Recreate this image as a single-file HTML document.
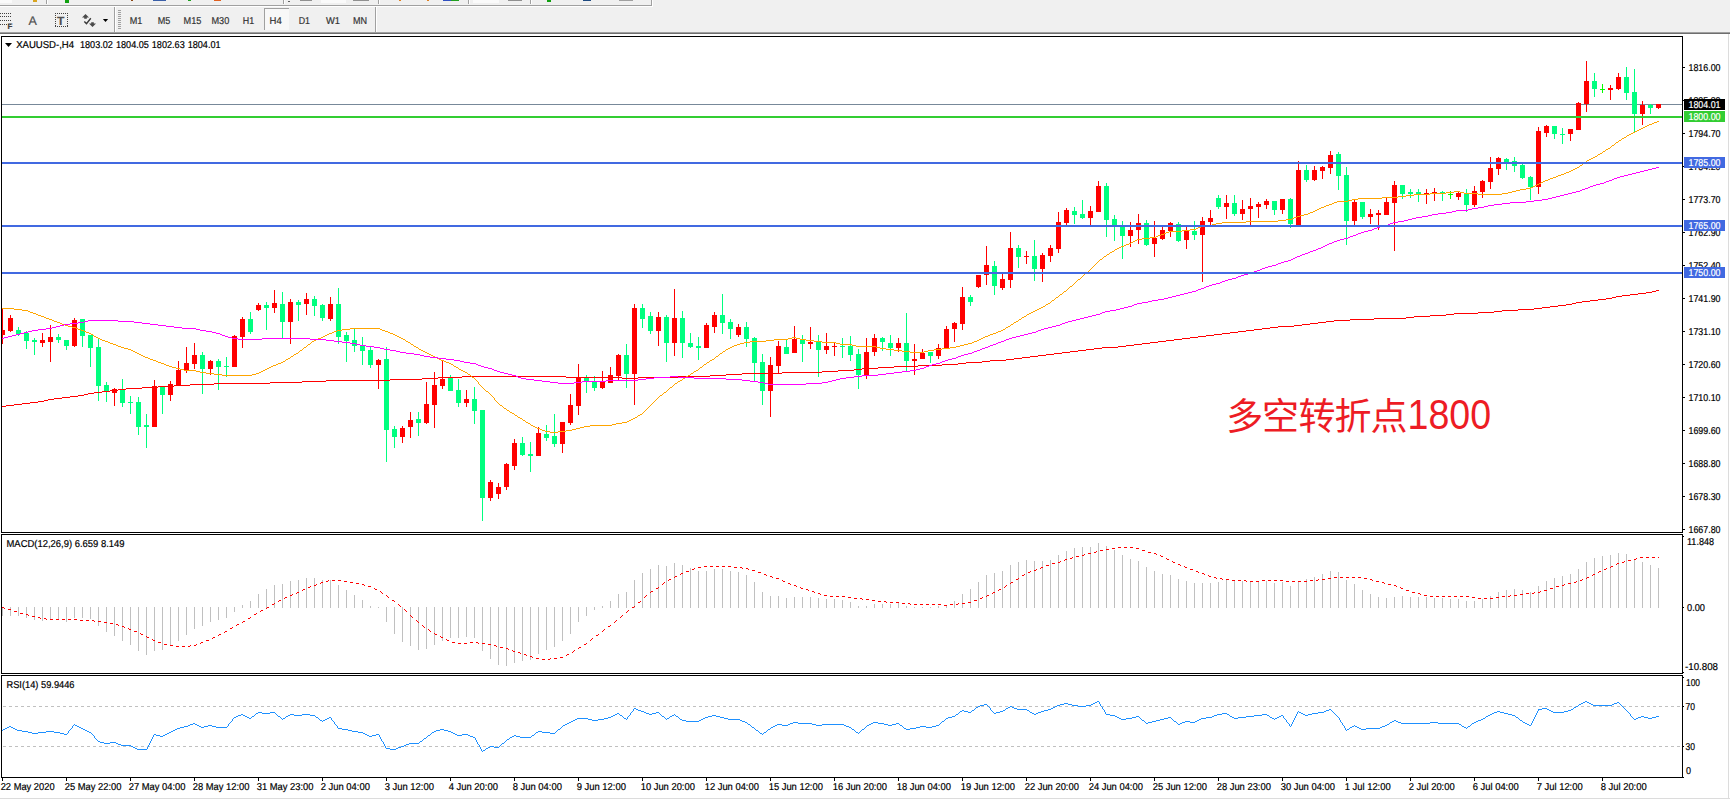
<!DOCTYPE html>
<html><head><meta charset="utf-8"><title>XAUUSD H4</title>
<style>html,body{margin:0;padding:0;background:#fff;overflow:hidden;width:1730px;height:800px;} svg{display:block} .t{stroke-width:0.2px}</style></head>
<body><svg width="1730" height="800" viewBox="0 0 1730 800">
<rect x="0" y="0" width="1730" height="34" fill="#f0f0f0"/>
<rect x="0" y="5" width="652" height="1" fill="#a0a0a0"/>
<rect x="0" y="6" width="653" height="1" fill="#ffffff"/>
<rect x="651" y="0" width="1" height="6" fill="#a0a0a0"/>
<rect x="652" y="0" width="1" height="7" fill="#ffffff"/>
<rect x="46" y="0" width="1" height="4" fill="#a0a0a0"/><rect x="47" y="0" width="1" height="4" fill="#fff"/>
<rect x="283" y="0" width="1" height="4" fill="#a0a0a0"/><rect x="284" y="0" width="1" height="4" fill="#fff"/>
<rect x="378" y="0" width="1" height="4" fill="#a0a0a0"/><rect x="379" y="0" width="1" height="4" fill="#fff"/>
<rect x="468" y="0" width="1" height="4" fill="#a0a0a0"/><rect x="469" y="0" width="1" height="4" fill="#fff"/>
<rect x="530" y="0" width="1" height="4" fill="#a0a0a0"/><rect x="531" y="0" width="1" height="4" fill="#fff"/>
<rect x="0" y="0" width="12" height="3" fill="#fafafa"/>
<rect x="33" y="0" width="4" height="2" fill="#d9a520"/>
<rect x="65" y="0" width="4" height="3" fill="#10a010"/>
<rect x="131" y="0" width="2" height="1" fill="#8b4513"/>
<rect x="153" y="0" width="13" height="1" fill="#3a5fa8"/>
<rect x="188" y="0" width="3" height="1" fill="#20a020"/>
<rect x="214" y="0" width="7" height="1" fill="#e06020"/>
<rect x="288" y="1" width="2" height="1" fill="#606060"/>
<rect x="300" y="0" width="12" height="1" fill="#909090"/>
<rect x="321" y="0" width="25" height="3" fill="#fafafa"/>
<rect x="353" y="0" width="16" height="1" fill="#909090"/>
<rect x="399" y="0" width="2" height="1" fill="#e08020"/>
<rect x="427" y="0" width="2" height="1" fill="#e08020"/>
<rect x="443" y="0" width="8" height="1" fill="#3050c0"/><rect x="451" y="0" width="8" height="1" fill="#20a020"/>
<rect x="473" y="0" width="26" height="3" fill="#fafafa"/>
<rect x="508" y="0" width="14" height="1" fill="#909090"/>
<rect x="547" y="0" width="4" height="2" fill="#10a010"/>
<rect x="583" y="0" width="8" height="1" fill="#1e4a80"/>
<rect x="619" y="0" width="14" height="1" fill="#a0a0a0"/>
<rect x="0" y="32" width="1730" height="1" fill="#a0a0a0"/>
<rect x="0" y="33" width="1730" height="1" fill="#6e6e6e"/>
<rect x="0" y="13" width="1" height="1" fill="#404040"/>
<rect x="2" y="13" width="1" height="1" fill="#404040"/>
<rect x="4" y="13" width="1" height="1" fill="#404040"/>
<rect x="6" y="13" width="1" height="1" fill="#404040"/>
<rect x="8" y="13" width="1" height="1" fill="#404040"/>
<rect x="10" y="13" width="1" height="1" fill="#404040"/>
<rect x="0" y="16" width="1" height="1" fill="#404040"/>
<rect x="2" y="16" width="1" height="1" fill="#404040"/>
<rect x="4" y="16" width="1" height="1" fill="#404040"/>
<rect x="6" y="16" width="1" height="1" fill="#404040"/>
<rect x="8" y="16" width="1" height="1" fill="#404040"/>
<rect x="10" y="16" width="1" height="1" fill="#404040"/>
<rect x="0" y="20" width="1" height="1" fill="#404040"/>
<rect x="2" y="20" width="1" height="1" fill="#404040"/>
<rect x="4" y="20" width="1" height="1" fill="#404040"/>
<rect x="6" y="20" width="1" height="1" fill="#404040"/>
<rect x="8" y="20" width="1" height="1" fill="#404040"/>
<rect x="10" y="20" width="1" height="1" fill="#404040"/>
<rect x="0" y="24" width="1" height="1" fill="#404040"/>
<rect x="2" y="24" width="1" height="1" fill="#404040"/>
<rect x="4" y="24" width="1" height="1" fill="#404040"/>
<rect x="6" y="24" width="1" height="1" fill="#404040"/>
<rect x="8" y="24" width="1" height="1" fill="#404040"/>
<rect x="10" y="24" width="1" height="1" fill="#404040"/>
<text x="7.5" y="29" font-family="Liberation Sans, Arial, sans-serif" text-rendering="geometricPrecision" class="t" font-size="8" font-weight="bold" fill="#404040" stroke="#404040">F</text>
<text x="28.5" y="25" font-family="Liberation Sans, Arial, sans-serif" text-rendering="geometricPrecision" class="t" font-size="12.5" fill="#505050" stroke="#505050">A</text>
<rect x="55" y="13" width="1" height="1" fill="#404040"/><rect x="55" y="26" width="1" height="1" fill="#404040"/>
<rect x="57" y="13" width="1" height="1" fill="#404040"/><rect x="57" y="26" width="1" height="1" fill="#404040"/>
<rect x="59" y="13" width="1" height="1" fill="#404040"/><rect x="59" y="26" width="1" height="1" fill="#404040"/>
<rect x="61" y="13" width="1" height="1" fill="#404040"/><rect x="61" y="26" width="1" height="1" fill="#404040"/>
<rect x="63" y="13" width="1" height="1" fill="#404040"/><rect x="63" y="26" width="1" height="1" fill="#404040"/>
<rect x="65" y="13" width="1" height="1" fill="#404040"/><rect x="65" y="26" width="1" height="1" fill="#404040"/>
<rect x="67" y="13" width="1" height="1" fill="#404040"/><rect x="67" y="26" width="1" height="1" fill="#404040"/>
<rect x="55" y="13" width="1" height="1" fill="#404040"/><rect x="67" y="13" width="1" height="1" fill="#404040"/>
<rect x="55" y="15" width="1" height="1" fill="#404040"/><rect x="67" y="15" width="1" height="1" fill="#404040"/>
<rect x="55" y="17" width="1" height="1" fill="#404040"/><rect x="67" y="17" width="1" height="1" fill="#404040"/>
<rect x="55" y="19" width="1" height="1" fill="#404040"/><rect x="67" y="19" width="1" height="1" fill="#404040"/>
<rect x="55" y="21" width="1" height="1" fill="#404040"/><rect x="67" y="21" width="1" height="1" fill="#404040"/>
<rect x="55" y="23" width="1" height="1" fill="#404040"/><rect x="67" y="23" width="1" height="1" fill="#404040"/>
<rect x="55" y="25" width="1" height="1" fill="#404040"/><rect x="67" y="25" width="1" height="1" fill="#404040"/>
<text x="57" y="25" font-family="Liberation Sans, Arial, sans-serif" text-rendering="geometricPrecision" class="t" font-size="12" font-weight="bold" fill="#505050" stroke="#505050">T</text>
<path d="M82 17.6 L85.5 14 L89 17.6 Z M84.2 17.5 h2.6 v1.3 h-2.6 Z" fill="#4a4a4a"/>
<path d="M89 23.4 L92.5 27 L96 23.4 Z M91.2 22.2 h2.6 v1.3 h-2.6 Z" fill="#4a4a4a"/>
<path d="M84.3 21.4 L86.5 23.6 L90.8 18.3" stroke="#3a3a3a" stroke-width="1.4" fill="none"/>
<path d="M102.9 19 L108.1 19 L105.5 22 Z" fill="#000"/>
<rect x="114" y="7" width="1" height="25" fill="#a0a0a0"/><rect x="115" y="7" width="1" height="25" fill="#ffffff"/>
<rect x="118" y="10" width="3" height="1" fill="#a0a0a0"/>
<rect x="118" y="12" width="3" height="1" fill="#a0a0a0"/>
<rect x="118" y="14" width="3" height="1" fill="#a0a0a0"/>
<rect x="118" y="16" width="3" height="1" fill="#a0a0a0"/>
<rect x="118" y="18" width="3" height="1" fill="#a0a0a0"/>
<rect x="118" y="20" width="3" height="1" fill="#a0a0a0"/>
<rect x="118" y="22" width="3" height="1" fill="#a0a0a0"/>
<rect x="118" y="24" width="3" height="1" fill="#a0a0a0"/>
<rect x="118" y="26" width="3" height="1" fill="#a0a0a0"/>
<rect x="118" y="28" width="3" height="1" fill="#a0a0a0"/>
<rect x="264" y="8" width="25" height="22" fill="#f8f8f8"/>
<rect x="264" y="8" width="25" height="1" fill="#a0a0a0"/><rect x="264" y="8" width="1" height="22" fill="#a0a0a0"/>
<text x="129.8" y="24" font-family="Liberation Sans, Arial, sans-serif" text-rendering="geometricPrecision" class="t" font-size="10" fill="#333" stroke="#333" textLength="12.6" lengthAdjust="spacingAndGlyphs">M1</text>
<text x="157.7" y="24" font-family="Liberation Sans, Arial, sans-serif" text-rendering="geometricPrecision" class="t" font-size="10" fill="#333" stroke="#333" textLength="12.6" lengthAdjust="spacingAndGlyphs">M5</text>
<text x="183.6" y="24" font-family="Liberation Sans, Arial, sans-serif" text-rendering="geometricPrecision" class="t" font-size="10" fill="#333" stroke="#333" textLength="17.8" lengthAdjust="spacingAndGlyphs">M15</text>
<text x="211.5" y="24" font-family="Liberation Sans, Arial, sans-serif" text-rendering="geometricPrecision" class="t" font-size="10" fill="#333" stroke="#333" textLength="17.8" lengthAdjust="spacingAndGlyphs">M30</text>
<text x="242.8" y="24" font-family="Liberation Sans, Arial, sans-serif" text-rendering="geometricPrecision" class="t" font-size="10" fill="#333" stroke="#333" textLength="11.4" lengthAdjust="spacingAndGlyphs">H1</text>
<text x="269.5" y="24" font-family="Liberation Sans, Arial, sans-serif" text-rendering="geometricPrecision" class="t" font-size="10" fill="#333" stroke="#333" textLength="12.2" lengthAdjust="spacingAndGlyphs">H4</text>
<text x="298.7" y="24" font-family="Liberation Sans, Arial, sans-serif" text-rendering="geometricPrecision" class="t" font-size="10" fill="#333" stroke="#333" textLength="11.3" lengthAdjust="spacingAndGlyphs">D1</text>
<text x="326" y="24" font-family="Liberation Sans, Arial, sans-serif" text-rendering="geometricPrecision" class="t" font-size="10" fill="#333" stroke="#333" textLength="14" lengthAdjust="spacingAndGlyphs">W1</text>
<text x="352.9" y="24" font-family="Liberation Sans, Arial, sans-serif" text-rendering="geometricPrecision" class="t" font-size="10" fill="#333" stroke="#333" textLength="14.1" lengthAdjust="spacingAndGlyphs">MN</text>
<rect x="375" y="7" width="1" height="25" fill="#a0a0a0"/><rect x="376" y="7" width="1" height="25" fill="#ffffff"/>
<rect x="0" y="34" width="1730" height="766" fill="#ffffff"/>
<rect x="1728" y="34" width="1" height="764" fill="#dcdcdc"/>
<rect x="0" y="798" width="1730" height="1" fill="#dcdcdc"/>
<defs><clipPath id="cm"><rect x="2" y="37" width="1680" height="495"/></clipPath><clipPath id="cd"><rect x="2" y="535" width="1680" height="138"/></clipPath><clipPath id="cr"><rect x="2" y="676" width="1680" height="101"/></clipPath></defs>
<g fill="#000">
<rect x="1" y="36" width="1682" height="1"/><rect x="1" y="532" width="1682" height="1"/>
<rect x="1" y="36" width="1" height="497"/><rect x="1682" y="36" width="1" height="497"/>
<rect x="1" y="534" width="1682" height="1"/><rect x="1" y="673" width="1682" height="1"/>
<rect x="1" y="534" width="1" height="140"/><rect x="1682" y="534" width="1" height="140"/>
<rect x="1" y="675" width="1682" height="1"/><rect x="1" y="777" width="1682" height="1"/>
<rect x="1" y="675" width="1" height="103"/><rect x="1682" y="675" width="1" height="103"/>
</g>
<rect x="1683" y="67" width="2" height="1" fill="#000"/>
<text x="1688.5" y="71" font-family="Liberation Sans, Arial, sans-serif" text-rendering="geometricPrecision" class="t" font-size="10" fill="#000" stroke="#000" textLength="32" lengthAdjust="spacingAndGlyphs">1816.00</text>
<rect x="1683" y="100" width="2" height="1" fill="#000"/>
<text x="1688.5" y="104" font-family="Liberation Sans, Arial, sans-serif" text-rendering="geometricPrecision" class="t" font-size="10" fill="#000" stroke="#000" textLength="32" lengthAdjust="spacingAndGlyphs">1805.30</text>
<rect x="1683" y="133" width="2" height="1" fill="#000"/>
<text x="1688.5" y="137" font-family="Liberation Sans, Arial, sans-serif" text-rendering="geometricPrecision" class="t" font-size="10" fill="#000" stroke="#000" textLength="32" lengthAdjust="spacingAndGlyphs">1794.70</text>
<rect x="1683" y="166" width="2" height="1" fill="#000"/>
<text x="1688.5" y="170" font-family="Liberation Sans, Arial, sans-serif" text-rendering="geometricPrecision" class="t" font-size="10" fill="#000" stroke="#000" textLength="32" lengthAdjust="spacingAndGlyphs">1784.20</text>
<rect x="1683" y="199" width="2" height="1" fill="#000"/>
<text x="1688.5" y="203" font-family="Liberation Sans, Arial, sans-serif" text-rendering="geometricPrecision" class="t" font-size="10" fill="#000" stroke="#000" textLength="32" lengthAdjust="spacingAndGlyphs">1773.70</text>
<rect x="1683" y="232" width="2" height="1" fill="#000"/>
<text x="1688.5" y="236" font-family="Liberation Sans, Arial, sans-serif" text-rendering="geometricPrecision" class="t" font-size="10" fill="#000" stroke="#000" textLength="32" lengthAdjust="spacingAndGlyphs">1762.90</text>
<rect x="1683" y="265" width="2" height="1" fill="#000"/>
<text x="1688.5" y="269" font-family="Liberation Sans, Arial, sans-serif" text-rendering="geometricPrecision" class="t" font-size="10" fill="#000" stroke="#000" textLength="32" lengthAdjust="spacingAndGlyphs">1752.40</text>
<rect x="1683" y="298" width="2" height="1" fill="#000"/>
<text x="1688.5" y="302" font-family="Liberation Sans, Arial, sans-serif" text-rendering="geometricPrecision" class="t" font-size="10" fill="#000" stroke="#000" textLength="32" lengthAdjust="spacingAndGlyphs">1741.90</text>
<rect x="1683" y="331" width="2" height="1" fill="#000"/>
<text x="1688.5" y="335" font-family="Liberation Sans, Arial, sans-serif" text-rendering="geometricPrecision" class="t" font-size="10" fill="#000" stroke="#000" textLength="32" lengthAdjust="spacingAndGlyphs">1731.10</text>
<rect x="1683" y="364" width="2" height="1" fill="#000"/>
<text x="1688.5" y="368" font-family="Liberation Sans, Arial, sans-serif" text-rendering="geometricPrecision" class="t" font-size="10" fill="#000" stroke="#000" textLength="32" lengthAdjust="spacingAndGlyphs">1720.60</text>
<rect x="1683" y="397" width="2" height="1" fill="#000"/>
<text x="1688.5" y="401" font-family="Liberation Sans, Arial, sans-serif" text-rendering="geometricPrecision" class="t" font-size="10" fill="#000" stroke="#000" textLength="32" lengthAdjust="spacingAndGlyphs">1710.10</text>
<rect x="1683" y="430" width="2" height="1" fill="#000"/>
<text x="1688.5" y="434" font-family="Liberation Sans, Arial, sans-serif" text-rendering="geometricPrecision" class="t" font-size="10" fill="#000" stroke="#000" textLength="32" lengthAdjust="spacingAndGlyphs">1699.60</text>
<rect x="1683" y="463" width="2" height="1" fill="#000"/>
<text x="1688.5" y="467" font-family="Liberation Sans, Arial, sans-serif" text-rendering="geometricPrecision" class="t" font-size="10" fill="#000" stroke="#000" textLength="32" lengthAdjust="spacingAndGlyphs">1688.80</text>
<rect x="1683" y="496" width="2" height="1" fill="#000"/>
<text x="1688.5" y="500" font-family="Liberation Sans, Arial, sans-serif" text-rendering="geometricPrecision" class="t" font-size="10" fill="#000" stroke="#000" textLength="32" lengthAdjust="spacingAndGlyphs">1678.30</text>
<rect x="1683" y="529" width="2" height="1" fill="#000"/>
<text x="1688.5" y="533" font-family="Liberation Sans, Arial, sans-serif" text-rendering="geometricPrecision" class="t" font-size="10" fill="#000" stroke="#000" textLength="32" lengthAdjust="spacingAndGlyphs">1667.80</text>
<g clip-path="url(#cm)" shape-rendering="crispEdges">
<rect x="2" y="104" width="1680" height="1" fill="#778899"/>
<rect x="2" y="308" width="1" height="36" fill="#ff0000"/>
<rect x="0" y="330" width="5" height="5" fill="#ff0000"/>
<rect x="10" y="315" width="1" height="17" fill="#ff0000"/>
<rect x="8" y="318" width="5" height="13" fill="#ff0000"/>
<rect x="18" y="327" width="1" height="9" fill="#00ff7f"/>
<rect x="16" y="330" width="5" height="4" fill="#00ff7f"/>
<rect x="26" y="331" width="1" height="18" fill="#00ff7f"/>
<rect x="24" y="333" width="5" height="8" fill="#00ff7f"/>
<rect x="34" y="338" width="1" height="17" fill="#00ff7f"/>
<rect x="32" y="340" width="5" height="2" fill="#00ff7f"/>
<rect x="42" y="333" width="1" height="14" fill="#ff0000"/>
<rect x="40" y="340" width="5" height="3" fill="#ff0000"/>
<rect x="50" y="325" width="1" height="37" fill="#ff0000"/>
<rect x="48" y="337" width="5" height="5" fill="#ff0000"/>
<rect x="58" y="334" width="1" height="9" fill="#00ff7f"/>
<rect x="56" y="337" width="5" height="3" fill="#00ff7f"/>
<rect x="66" y="340" width="1" height="10" fill="#00ff7f"/>
<rect x="64" y="340" width="5" height="6" fill="#00ff7f"/>
<rect x="74" y="318" width="1" height="29" fill="#ff0000"/>
<rect x="72" y="320" width="5" height="26" fill="#ff0000"/>
<rect x="82" y="319" width="1" height="28" fill="#00ff7f"/>
<rect x="80" y="319" width="5" height="17" fill="#00ff7f"/>
<rect x="90" y="335" width="1" height="32" fill="#00ff7f"/>
<rect x="88" y="335" width="5" height="13" fill="#00ff7f"/>
<rect x="98" y="339" width="1" height="62" fill="#00ff7f"/>
<rect x="96" y="347" width="5" height="39" fill="#00ff7f"/>
<rect x="106" y="382" width="1" height="20" fill="#00ff7f"/>
<rect x="104" y="385" width="5" height="7" fill="#00ff7f"/>
<rect x="114" y="388" width="1" height="18" fill="#ff0000"/>
<rect x="112" y="389" width="5" height="4" fill="#ff0000"/>
<rect x="122" y="379" width="1" height="28" fill="#00ff7f"/>
<rect x="120" y="390" width="5" height="13" fill="#00ff7f"/>
<rect x="130" y="396" width="1" height="18" fill="#00ff7f"/>
<rect x="128" y="402" width="5" height="1" fill="#00ff7f"/>
<rect x="138" y="397" width="1" height="38" fill="#00ff7f"/>
<rect x="136" y="402" width="5" height="25" fill="#00ff7f"/>
<rect x="146" y="414" width="1" height="34" fill="#00ff7f"/>
<rect x="144" y="425" width="5" height="2" fill="#00ff7f"/>
<rect x="154" y="380" width="1" height="47" fill="#ff0000"/>
<rect x="152" y="386" width="5" height="41" fill="#ff0000"/>
<rect x="162" y="387" width="1" height="27" fill="#00ff7f"/>
<rect x="160" y="387" width="5" height="8" fill="#00ff7f"/>
<rect x="170" y="381" width="1" height="20" fill="#ff0000"/>
<rect x="168" y="384" width="5" height="11" fill="#ff0000"/>
<rect x="178" y="361" width="1" height="24" fill="#ff0000"/>
<rect x="176" y="370" width="5" height="15" fill="#ff0000"/>
<rect x="186" y="347" width="1" height="26" fill="#ff0000"/>
<rect x="184" y="363" width="5" height="7" fill="#ff0000"/>
<rect x="194" y="343" width="1" height="26" fill="#ff0000"/>
<rect x="192" y="355" width="5" height="9" fill="#ff0000"/>
<rect x="202" y="352" width="1" height="42" fill="#00ff7f"/>
<rect x="200" y="355" width="5" height="14" fill="#00ff7f"/>
<rect x="210" y="360" width="1" height="15" fill="#ff0000"/>
<rect x="208" y="361" width="5" height="8" fill="#ff0000"/>
<rect x="218" y="359" width="1" height="31" fill="#00ff7f"/>
<rect x="216" y="361" width="5" height="6" fill="#00ff7f"/>
<rect x="226" y="357" width="1" height="20" fill="#00ff7f"/>
<rect x="224" y="366" width="5" height="1" fill="#00ff7f"/>
<rect x="234" y="335" width="1" height="32" fill="#ff0000"/>
<rect x="232" y="336" width="5" height="31" fill="#ff0000"/>
<rect x="242" y="317" width="1" height="31" fill="#ff0000"/>
<rect x="240" y="319" width="5" height="18" fill="#ff0000"/>
<rect x="250" y="312" width="1" height="22" fill="#00ff7f"/>
<rect x="248" y="319" width="5" height="13" fill="#00ff7f"/>
<rect x="258" y="303" width="1" height="8" fill="#ff0000"/>
<rect x="256" y="305" width="5" height="5" fill="#ff0000"/>
<rect x="266" y="302" width="1" height="28" fill="#00ff7f"/>
<rect x="264" y="305" width="5" height="3" fill="#00ff7f"/>
<rect x="274" y="290" width="1" height="23" fill="#ff0000"/>
<rect x="272" y="303" width="5" height="5" fill="#ff0000"/>
<rect x="282" y="292" width="1" height="46" fill="#00ff7f"/>
<rect x="280" y="304" width="5" height="18" fill="#00ff7f"/>
<rect x="290" y="299" width="1" height="45" fill="#ff0000"/>
<rect x="288" y="302" width="5" height="20" fill="#ff0000"/>
<rect x="298" y="300" width="1" height="21" fill="#00ff7f"/>
<rect x="296" y="302" width="5" height="3" fill="#00ff7f"/>
<rect x="306" y="293" width="1" height="22" fill="#ff0000"/>
<rect x="304" y="299" width="5" height="5" fill="#ff0000"/>
<rect x="314" y="296" width="1" height="20" fill="#00ff7f"/>
<rect x="312" y="299" width="5" height="7" fill="#00ff7f"/>
<rect x="322" y="304" width="1" height="17" fill="#00ff7f"/>
<rect x="320" y="305" width="5" height="13" fill="#00ff7f"/>
<rect x="330" y="297" width="1" height="24" fill="#ff0000"/>
<rect x="328" y="304" width="5" height="15" fill="#ff0000"/>
<rect x="338" y="288" width="1" height="56" fill="#00ff7f"/>
<rect x="336" y="304" width="5" height="33" fill="#00ff7f"/>
<rect x="346" y="332" width="1" height="30" fill="#00ff7f"/>
<rect x="344" y="335" width="5" height="6" fill="#00ff7f"/>
<rect x="354" y="328" width="1" height="24" fill="#00ff7f"/>
<rect x="352" y="340" width="5" height="6" fill="#00ff7f"/>
<rect x="362" y="337" width="1" height="28" fill="#00ff7f"/>
<rect x="360" y="346" width="5" height="5" fill="#00ff7f"/>
<rect x="370" y="347" width="1" height="21" fill="#00ff7f"/>
<rect x="368" y="350" width="5" height="15" fill="#00ff7f"/>
<rect x="378" y="359" width="1" height="30" fill="#ff0000"/>
<rect x="376" y="360" width="5" height="5" fill="#ff0000"/>
<rect x="386" y="347" width="1" height="115" fill="#00ff7f"/>
<rect x="384" y="359" width="5" height="71" fill="#00ff7f"/>
<rect x="394" y="426" width="1" height="22" fill="#00ff7f"/>
<rect x="392" y="429" width="5" height="8" fill="#00ff7f"/>
<rect x="402" y="426" width="1" height="17" fill="#ff0000"/>
<rect x="400" y="428" width="5" height="9" fill="#ff0000"/>
<rect x="410" y="412" width="1" height="26" fill="#ff0000"/>
<rect x="408" y="420" width="5" height="7" fill="#ff0000"/>
<rect x="418" y="412" width="1" height="24" fill="#00ff7f"/>
<rect x="416" y="419" width="5" height="4" fill="#00ff7f"/>
<rect x="426" y="382" width="1" height="42" fill="#ff0000"/>
<rect x="424" y="404" width="5" height="19" fill="#ff0000"/>
<rect x="434" y="372" width="1" height="56" fill="#ff0000"/>
<rect x="432" y="385" width="5" height="20" fill="#ff0000"/>
<rect x="442" y="360" width="1" height="29" fill="#ff0000"/>
<rect x="440" y="379" width="5" height="7" fill="#ff0000"/>
<rect x="450" y="375" width="1" height="16" fill="#00ff7f"/>
<rect x="448" y="378" width="5" height="13" fill="#00ff7f"/>
<rect x="458" y="379" width="1" height="28" fill="#00ff7f"/>
<rect x="456" y="390" width="5" height="13" fill="#00ff7f"/>
<rect x="466" y="390" width="1" height="17" fill="#ff0000"/>
<rect x="464" y="399" width="5" height="4" fill="#ff0000"/>
<rect x="474" y="387" width="1" height="37" fill="#00ff7f"/>
<rect x="472" y="399" width="5" height="12" fill="#00ff7f"/>
<rect x="482" y="410" width="1" height="111" fill="#00ff7f"/>
<rect x="480" y="410" width="5" height="88" fill="#00ff7f"/>
<rect x="490" y="480" width="1" height="21" fill="#ff0000"/>
<rect x="488" y="482" width="5" height="16" fill="#ff0000"/>
<rect x="498" y="483" width="1" height="16" fill="#ff0000"/>
<rect x="496" y="487" width="5" height="7" fill="#ff0000"/>
<rect x="506" y="463" width="1" height="27" fill="#ff0000"/>
<rect x="504" y="464" width="5" height="23" fill="#ff0000"/>
<rect x="514" y="439" width="1" height="31" fill="#ff0000"/>
<rect x="512" y="443" width="5" height="23" fill="#ff0000"/>
<rect x="522" y="437" width="1" height="19" fill="#00ff7f"/>
<rect x="520" y="443" width="5" height="12" fill="#00ff7f"/>
<rect x="530" y="442" width="1" height="30" fill="#00ff7f"/>
<rect x="528" y="454" width="5" height="2" fill="#00ff7f"/>
<rect x="538" y="427" width="1" height="29" fill="#ff0000"/>
<rect x="536" y="433" width="5" height="23" fill="#ff0000"/>
<rect x="546" y="425" width="1" height="16" fill="#00ff7f"/>
<rect x="544" y="434" width="5" height="4" fill="#00ff7f"/>
<rect x="554" y="414" width="1" height="33" fill="#00ff7f"/>
<rect x="552" y="436" width="5" height="8" fill="#00ff7f"/>
<rect x="562" y="422" width="1" height="31" fill="#ff0000"/>
<rect x="560" y="422" width="5" height="22" fill="#ff0000"/>
<rect x="570" y="394" width="1" height="31" fill="#ff0000"/>
<rect x="568" y="405" width="5" height="18" fill="#ff0000"/>
<rect x="578" y="364" width="1" height="51" fill="#ff0000"/>
<rect x="576" y="378" width="5" height="28" fill="#ff0000"/>
<rect x="586" y="375" width="1" height="18" fill="#00ff7f"/>
<rect x="584" y="378" width="5" height="3" fill="#00ff7f"/>
<rect x="594" y="376" width="1" height="15" fill="#00ff7f"/>
<rect x="592" y="382" width="5" height="6" fill="#00ff7f"/>
<rect x="602" y="371" width="1" height="18" fill="#ff0000"/>
<rect x="600" y="382" width="5" height="6" fill="#ff0000"/>
<rect x="610" y="367" width="1" height="16" fill="#ff0000"/>
<rect x="608" y="375" width="5" height="8" fill="#ff0000"/>
<rect x="618" y="354" width="1" height="26" fill="#ff0000"/>
<rect x="616" y="355" width="5" height="21" fill="#ff0000"/>
<rect x="626" y="344" width="1" height="44" fill="#00ff7f"/>
<rect x="624" y="355" width="5" height="19" fill="#00ff7f"/>
<rect x="634" y="304" width="1" height="101" fill="#ff0000"/>
<rect x="632" y="308" width="5" height="66" fill="#ff0000"/>
<rect x="642" y="304" width="1" height="24" fill="#00ff7f"/>
<rect x="640" y="308" width="5" height="11" fill="#00ff7f"/>
<rect x="650" y="312" width="1" height="22" fill="#00ff7f"/>
<rect x="648" y="316" width="5" height="15" fill="#00ff7f"/>
<rect x="658" y="312" width="1" height="34" fill="#ff0000"/>
<rect x="656" y="317" width="5" height="14" fill="#ff0000"/>
<rect x="666" y="315" width="1" height="47" fill="#00ff7f"/>
<rect x="664" y="317" width="5" height="26" fill="#00ff7f"/>
<rect x="674" y="289" width="1" height="67" fill="#ff0000"/>
<rect x="672" y="318" width="5" height="25" fill="#ff0000"/>
<rect x="682" y="311" width="1" height="47" fill="#00ff7f"/>
<rect x="680" y="318" width="5" height="25" fill="#00ff7f"/>
<rect x="690" y="333" width="1" height="15" fill="#00ff7f"/>
<rect x="688" y="343" width="5" height="4" fill="#00ff7f"/>
<rect x="698" y="337" width="1" height="23" fill="#00ff7f"/>
<rect x="696" y="346" width="5" height="2" fill="#00ff7f"/>
<rect x="706" y="323" width="1" height="25" fill="#ff0000"/>
<rect x="704" y="325" width="5" height="23" fill="#ff0000"/>
<rect x="714" y="312" width="1" height="21" fill="#ff0000"/>
<rect x="712" y="315" width="5" height="12" fill="#ff0000"/>
<rect x="722" y="294" width="1" height="40" fill="#00ff7f"/>
<rect x="720" y="315" width="5" height="8" fill="#00ff7f"/>
<rect x="730" y="319" width="1" height="20" fill="#00ff7f"/>
<rect x="728" y="322" width="5" height="7" fill="#00ff7f"/>
<rect x="738" y="324" width="1" height="13" fill="#ff0000"/>
<rect x="736" y="327" width="5" height="8" fill="#ff0000"/>
<rect x="746" y="322" width="1" height="25" fill="#00ff7f"/>
<rect x="744" y="327" width="5" height="12" fill="#00ff7f"/>
<rect x="754" y="337" width="1" height="44" fill="#00ff7f"/>
<rect x="752" y="338" width="5" height="25" fill="#00ff7f"/>
<rect x="762" y="354" width="1" height="51" fill="#00ff7f"/>
<rect x="760" y="362" width="5" height="29" fill="#00ff7f"/>
<rect x="770" y="357" width="1" height="60" fill="#ff0000"/>
<rect x="768" y="365" width="5" height="26" fill="#ff0000"/>
<rect x="778" y="341" width="1" height="33" fill="#ff0000"/>
<rect x="776" y="346" width="5" height="20" fill="#ff0000"/>
<rect x="786" y="339" width="1" height="15" fill="#00ff7f"/>
<rect x="784" y="347" width="5" height="7" fill="#00ff7f"/>
<rect x="794" y="326" width="1" height="27" fill="#ff0000"/>
<rect x="792" y="339" width="5" height="14" fill="#ff0000"/>
<rect x="802" y="335" width="1" height="27" fill="#00ff7f"/>
<rect x="800" y="339" width="5" height="5" fill="#00ff7f"/>
<rect x="810" y="327" width="1" height="22" fill="#ff0000"/>
<rect x="808" y="342" width="5" height="2" fill="#ff0000"/>
<rect x="818" y="335" width="1" height="42" fill="#00ff7f"/>
<rect x="816" y="342" width="5" height="8" fill="#00ff7f"/>
<rect x="826" y="333" width="1" height="21" fill="#ff0000"/>
<rect x="824" y="346" width="5" height="4" fill="#ff0000"/>
<rect x="834" y="342" width="1" height="14" fill="#ff0000"/>
<rect x="832" y="346" width="5" height="1" fill="#ff0000"/>
<rect x="842" y="338" width="1" height="20" fill="#00ff7f"/>
<rect x="840" y="346" width="5" height="1" fill="#00ff7f"/>
<rect x="850" y="336" width="1" height="25" fill="#00ff7f"/>
<rect x="848" y="346" width="5" height="9" fill="#00ff7f"/>
<rect x="858" y="349" width="1" height="40" fill="#00ff7f"/>
<rect x="856" y="354" width="5" height="21" fill="#00ff7f"/>
<rect x="866" y="338" width="1" height="41" fill="#ff0000"/>
<rect x="864" y="352" width="5" height="23" fill="#ff0000"/>
<rect x="874" y="334" width="1" height="22" fill="#ff0000"/>
<rect x="872" y="338" width="5" height="14" fill="#ff0000"/>
<rect x="882" y="337" width="1" height="14" fill="#00ff7f"/>
<rect x="880" y="338" width="5" height="4" fill="#00ff7f"/>
<rect x="890" y="335" width="1" height="21" fill="#00ff7f"/>
<rect x="888" y="343" width="5" height="5" fill="#00ff7f"/>
<rect x="898" y="338" width="1" height="14" fill="#ff0000"/>
<rect x="896" y="343" width="5" height="5" fill="#ff0000"/>
<rect x="906" y="313" width="1" height="58" fill="#00ff7f"/>
<rect x="904" y="343" width="5" height="18" fill="#00ff7f"/>
<rect x="914" y="344" width="1" height="31" fill="#ff0000"/>
<rect x="912" y="359" width="5" height="2" fill="#ff0000"/>
<rect x="922" y="349" width="1" height="10" fill="#ff0000"/>
<rect x="920" y="353" width="5" height="6" fill="#ff0000"/>
<rect x="930" y="352" width="1" height="11" fill="#00ff7f"/>
<rect x="928" y="352" width="5" height="4" fill="#00ff7f"/>
<rect x="938" y="344" width="1" height="15" fill="#ff0000"/>
<rect x="936" y="348" width="5" height="8" fill="#ff0000"/>
<rect x="946" y="326" width="1" height="22" fill="#ff0000"/>
<rect x="944" y="329" width="5" height="19" fill="#ff0000"/>
<rect x="954" y="322" width="1" height="20" fill="#ff0000"/>
<rect x="952" y="323" width="5" height="6" fill="#ff0000"/>
<rect x="962" y="287" width="1" height="43" fill="#ff0000"/>
<rect x="960" y="297" width="5" height="27" fill="#ff0000"/>
<rect x="970" y="295" width="1" height="11" fill="#00ff7f"/>
<rect x="968" y="297" width="5" height="5" fill="#00ff7f"/>
<rect x="978" y="275" width="1" height="13" fill="#ff0000"/>
<rect x="976" y="275" width="5" height="12" fill="#ff0000"/>
<rect x="986" y="246" width="1" height="39" fill="#ff0000"/>
<rect x="984" y="265" width="5" height="10" fill="#ff0000"/>
<rect x="994" y="261" width="1" height="34" fill="#00ff7f"/>
<rect x="992" y="266" width="5" height="20" fill="#00ff7f"/>
<rect x="1002" y="274" width="1" height="16" fill="#ff0000"/>
<rect x="1000" y="279" width="5" height="9" fill="#ff0000"/>
<rect x="1010" y="232" width="1" height="56" fill="#ff0000"/>
<rect x="1008" y="248" width="5" height="32" fill="#ff0000"/>
<rect x="1018" y="245" width="1" height="23" fill="#00ff7f"/>
<rect x="1016" y="248" width="5" height="9" fill="#00ff7f"/>
<rect x="1026" y="251" width="1" height="13" fill="#ff0000"/>
<rect x="1024" y="256" width="5" height="1" fill="#ff0000"/>
<rect x="1034" y="240" width="1" height="41" fill="#00ff7f"/>
<rect x="1032" y="256" width="5" height="13" fill="#00ff7f"/>
<rect x="1042" y="253" width="1" height="29" fill="#ff0000"/>
<rect x="1040" y="255" width="5" height="14" fill="#ff0000"/>
<rect x="1050" y="245" width="1" height="17" fill="#ff0000"/>
<rect x="1048" y="248" width="5" height="8" fill="#ff0000"/>
<rect x="1058" y="212" width="1" height="41" fill="#ff0000"/>
<rect x="1056" y="222" width="5" height="27" fill="#ff0000"/>
<rect x="1066" y="208" width="1" height="17" fill="#ff0000"/>
<rect x="1064" y="210" width="5" height="13" fill="#ff0000"/>
<rect x="1074" y="207" width="1" height="17" fill="#00ff7f"/>
<rect x="1072" y="211" width="5" height="4" fill="#00ff7f"/>
<rect x="1082" y="200" width="1" height="19" fill="#00ff7f"/>
<rect x="1080" y="214" width="5" height="4" fill="#00ff7f"/>
<rect x="1090" y="206" width="1" height="19" fill="#ff0000"/>
<rect x="1088" y="211" width="5" height="7" fill="#ff0000"/>
<rect x="1098" y="181" width="1" height="31" fill="#ff0000"/>
<rect x="1096" y="186" width="5" height="26" fill="#ff0000"/>
<rect x="1106" y="183" width="1" height="54" fill="#00ff7f"/>
<rect x="1104" y="186" width="5" height="34" fill="#00ff7f"/>
<rect x="1114" y="215" width="1" height="26" fill="#00ff7f"/>
<rect x="1112" y="219" width="5" height="6" fill="#00ff7f"/>
<rect x="1122" y="221" width="1" height="38" fill="#00ff7f"/>
<rect x="1120" y="227" width="5" height="9" fill="#00ff7f"/>
<rect x="1130" y="222" width="1" height="25" fill="#ff0000"/>
<rect x="1128" y="230" width="5" height="6" fill="#ff0000"/>
<rect x="1138" y="214" width="1" height="30" fill="#ff0000"/>
<rect x="1136" y="223" width="5" height="7" fill="#ff0000"/>
<rect x="1146" y="220" width="1" height="26" fill="#00ff7f"/>
<rect x="1144" y="223" width="5" height="22" fill="#00ff7f"/>
<rect x="1154" y="221" width="1" height="36" fill="#ff0000"/>
<rect x="1152" y="238" width="5" height="6" fill="#ff0000"/>
<rect x="1162" y="227" width="1" height="13" fill="#ff0000"/>
<rect x="1160" y="230" width="5" height="9" fill="#ff0000"/>
<rect x="1170" y="222" width="1" height="15" fill="#ff0000"/>
<rect x="1168" y="223" width="5" height="8" fill="#ff0000"/>
<rect x="1178" y="222" width="1" height="20" fill="#00ff7f"/>
<rect x="1176" y="224" width="5" height="17" fill="#00ff7f"/>
<rect x="1186" y="227" width="1" height="22" fill="#ff0000"/>
<rect x="1184" y="231" width="5" height="9" fill="#ff0000"/>
<rect x="1194" y="221" width="1" height="19" fill="#00ff7f"/>
<rect x="1192" y="231" width="5" height="4" fill="#00ff7f"/>
<rect x="1202" y="217" width="1" height="65" fill="#ff0000"/>
<rect x="1200" y="221" width="5" height="14" fill="#ff0000"/>
<rect x="1210" y="210" width="1" height="15" fill="#ff0000"/>
<rect x="1208" y="218" width="5" height="4" fill="#ff0000"/>
<rect x="1218" y="195" width="1" height="14" fill="#00ff7f"/>
<rect x="1216" y="198" width="5" height="9" fill="#00ff7f"/>
<rect x="1226" y="195" width="1" height="24" fill="#ff0000"/>
<rect x="1224" y="203" width="5" height="4" fill="#ff0000"/>
<rect x="1234" y="195" width="1" height="21" fill="#00ff7f"/>
<rect x="1232" y="203" width="5" height="11" fill="#00ff7f"/>
<rect x="1242" y="200" width="1" height="20" fill="#ff0000"/>
<rect x="1240" y="209" width="5" height="5" fill="#ff0000"/>
<rect x="1250" y="198" width="1" height="27" fill="#ff0000"/>
<rect x="1248" y="206" width="5" height="3" fill="#ff0000"/>
<rect x="1258" y="202" width="1" height="16" fill="#ff0000"/>
<rect x="1256" y="204" width="5" height="3" fill="#ff0000"/>
<rect x="1266" y="199" width="1" height="10" fill="#ff0000"/>
<rect x="1264" y="201" width="5" height="4" fill="#ff0000"/>
<rect x="1274" y="201" width="1" height="14" fill="#00ff7f"/>
<rect x="1272" y="201" width="5" height="9" fill="#00ff7f"/>
<rect x="1282" y="199" width="1" height="15" fill="#ff0000"/>
<rect x="1280" y="199" width="5" height="11" fill="#ff0000"/>
<rect x="1290" y="198" width="1" height="30" fill="#00ff7f"/>
<rect x="1288" y="199" width="5" height="25" fill="#00ff7f"/>
<rect x="1298" y="161" width="1" height="64" fill="#ff0000"/>
<rect x="1296" y="170" width="5" height="55" fill="#ff0000"/>
<rect x="1306" y="165" width="1" height="17" fill="#00ff7f"/>
<rect x="1304" y="170" width="5" height="10" fill="#00ff7f"/>
<rect x="1314" y="166" width="1" height="15" fill="#ff0000"/>
<rect x="1312" y="170" width="5" height="10" fill="#ff0000"/>
<rect x="1322" y="166" width="1" height="13" fill="#ff0000"/>
<rect x="1320" y="167" width="5" height="4" fill="#ff0000"/>
<rect x="1330" y="151" width="1" height="23" fill="#ff0000"/>
<rect x="1328" y="155" width="5" height="13" fill="#ff0000"/>
<rect x="1338" y="152" width="1" height="38" fill="#00ff7f"/>
<rect x="1336" y="154" width="5" height="22" fill="#00ff7f"/>
<rect x="1346" y="167" width="1" height="78" fill="#00ff7f"/>
<rect x="1344" y="175" width="5" height="46" fill="#00ff7f"/>
<rect x="1354" y="200" width="1" height="25" fill="#ff0000"/>
<rect x="1352" y="202" width="5" height="19" fill="#ff0000"/>
<rect x="1362" y="202" width="1" height="17" fill="#00ff7f"/>
<rect x="1360" y="202" width="5" height="15" fill="#00ff7f"/>
<rect x="1370" y="209" width="1" height="15" fill="#ff0000"/>
<rect x="1368" y="214" width="5" height="3" fill="#ff0000"/>
<rect x="1378" y="210" width="1" height="20" fill="#ff0000"/>
<rect x="1376" y="213" width="5" height="2" fill="#ff0000"/>
<rect x="1386" y="197" width="1" height="18" fill="#ff0000"/>
<rect x="1384" y="202" width="5" height="13" fill="#ff0000"/>
<rect x="1394" y="181" width="1" height="70" fill="#ff0000"/>
<rect x="1392" y="185" width="5" height="18" fill="#ff0000"/>
<rect x="1402" y="185" width="1" height="14" fill="#00ff7f"/>
<rect x="1400" y="185" width="5" height="9" fill="#00ff7f"/>
<rect x="1410" y="189" width="1" height="9" fill="#00ff7f"/>
<rect x="1408" y="192" width="5" height="2" fill="#00ff7f"/>
<rect x="1418" y="189" width="1" height="13" fill="#00ff7f"/>
<rect x="1416" y="192" width="5" height="2" fill="#00ff7f"/>
<rect x="1426" y="189" width="1" height="15" fill="#ff0000"/>
<rect x="1424" y="193" width="5" height="1" fill="#ff0000"/>
<rect x="1434" y="188" width="1" height="13" fill="#ff0000"/>
<rect x="1432" y="192" width="5" height="1" fill="#ff0000"/>
<rect x="1442" y="191" width="1" height="10" fill="#00ff7f"/>
<rect x="1440" y="192" width="5" height="2" fill="#00ff7f"/>
<rect x="1450" y="191" width="1" height="8" fill="#00ff00"/>
<rect x="1448" y="194" width="5" height="1" fill="#00ff00"/>
<rect x="1458" y="192" width="1" height="8" fill="#ff0000"/>
<rect x="1456" y="193" width="5" height="4" fill="#ff0000"/>
<rect x="1466" y="189" width="1" height="23" fill="#00ff7f"/>
<rect x="1464" y="193" width="5" height="12" fill="#00ff7f"/>
<rect x="1474" y="186" width="1" height="21" fill="#ff0000"/>
<rect x="1472" y="191" width="5" height="14" fill="#ff0000"/>
<rect x="1482" y="180" width="1" height="18" fill="#ff0000"/>
<rect x="1480" y="181" width="5" height="11" fill="#ff0000"/>
<rect x="1490" y="157" width="1" height="32" fill="#ff0000"/>
<rect x="1488" y="168" width="5" height="14" fill="#ff0000"/>
<rect x="1498" y="157" width="1" height="18" fill="#ff0000"/>
<rect x="1496" y="158" width="5" height="11" fill="#ff0000"/>
<rect x="1506" y="158" width="1" height="12" fill="#00ff7f"/>
<rect x="1504" y="159" width="5" height="3" fill="#00ff7f"/>
<rect x="1514" y="157" width="1" height="15" fill="#00ff7f"/>
<rect x="1512" y="161" width="5" height="5" fill="#00ff7f"/>
<rect x="1522" y="164" width="1" height="15" fill="#00ff7f"/>
<rect x="1520" y="165" width="5" height="13" fill="#00ff7f"/>
<rect x="1530" y="176" width="1" height="24" fill="#00ff7f"/>
<rect x="1528" y="177" width="5" height="10" fill="#00ff7f"/>
<rect x="1538" y="127" width="1" height="67" fill="#ff0000"/>
<rect x="1536" y="131" width="5" height="56" fill="#ff0000"/>
<rect x="1546" y="125" width="1" height="12" fill="#ff0000"/>
<rect x="1544" y="126" width="5" height="7" fill="#ff0000"/>
<rect x="1554" y="126" width="1" height="13" fill="#00ff7f"/>
<rect x="1552" y="126" width="5" height="8" fill="#00ff7f"/>
<rect x="1562" y="128" width="1" height="16" fill="#00ff7f"/>
<rect x="1560" y="134" width="5" height="1" fill="#00ff7f"/>
<rect x="1570" y="129" width="1" height="12" fill="#ff0000"/>
<rect x="1568" y="129" width="5" height="5" fill="#ff0000"/>
<rect x="1578" y="102" width="1" height="28" fill="#ff0000"/>
<rect x="1576" y="103" width="5" height="27" fill="#ff0000"/>
<rect x="1586" y="61" width="1" height="51" fill="#ff0000"/>
<rect x="1584" y="81" width="5" height="23" fill="#ff0000"/>
<rect x="1594" y="73" width="1" height="24" fill="#00ff7f"/>
<rect x="1592" y="81" width="5" height="8" fill="#00ff7f"/>
<rect x="1602" y="84" width="1" height="9" fill="#00ff00"/>
<rect x="1600" y="89" width="5" height="1" fill="#00ff00"/>
<rect x="1610" y="85" width="1" height="15" fill="#ff0000"/>
<rect x="1608" y="88" width="5" height="2" fill="#ff0000"/>
<rect x="1618" y="73" width="1" height="17" fill="#ff0000"/>
<rect x="1616" y="77" width="5" height="12" fill="#ff0000"/>
<rect x="1626" y="67" width="1" height="33" fill="#00ff7f"/>
<rect x="1624" y="77" width="5" height="16" fill="#00ff7f"/>
<rect x="1634" y="69" width="1" height="63" fill="#00ff7f"/>
<rect x="1632" y="92" width="5" height="22" fill="#00ff7f"/>
<rect x="1642" y="101" width="1" height="24" fill="#ff0000"/>
<rect x="1640" y="105" width="5" height="9" fill="#ff0000"/>
<rect x="1650" y="104" width="1" height="10" fill="#00ff7f"/>
<rect x="1648" y="105" width="5" height="3" fill="#00ff7f"/>
<rect x="1658" y="104" width="1" height="5" fill="#ff0000"/>
<rect x="1656" y="104" width="5" height="4" fill="#ff0000"/>
<path d="M1656 290h3v1h-3zM1652 291h4v1h-4zM1646 292h6v1h-6zM1638 293h8v1h-8zM1630 294h8v1h-8zM1622 295h8v1h-8zM1616 296h6v1h-6zM1612 297h4v1h-4zM1606 298h6v1h-6zM1598 299h8v1h-8zM1590 300h8v1h-8zM1582 301h8v1h-8zM1576 302h6v1h-6zM1572 303h4v1h-4zM1566 304h6v1h-6zM1558 305h8v1h-8zM1550 306h8v1h-8zM1542 307h8v1h-8zM1534 308h8v1h-8zM1518 309h16v1h-16zM1502 310h16v1h-16zM1494 311h8v1h-8zM1478 312h16v1h-16zM1454 313h24v1h-24zM1446 314h8v1h-8zM1430 315h16v1h-16zM1414 316h16v1h-16zM1406 317h8v1h-8zM1374 318h32v1h-32zM1350 319h24v1h-24zM1334 320h16v1h-16zM1326 321h8v1h-8zM1318 322h8v1h-8zM1310 323h8v1h-8zM1302 324h8v1h-8zM1294 325h8v1h-8zM1278 326h16v1h-16zM1270 327h8v1h-8zM1262 328h8v1h-8zM1254 329h8v1h-8zM1246 330h8v1h-8zM1238 331h8v1h-8zM1230 332h8v1h-8zM1222 333h8v1h-8zM1214 334h8v1h-8zM1206 335h8v1h-8zM1198 336h8v1h-8zM1190 337h8v1h-8zM1182 338h8v1h-8zM1174 339h8v1h-8zM1166 340h8v1h-8zM1158 341h8v1h-8zM1150 342h8v1h-8zM1142 343h8v1h-8zM1134 344h8v1h-8zM1126 345h8v1h-8zM1118 346h8v1h-8zM1102 347h16v1h-16zM1094 348h8v1h-8zM1086 349h8v1h-8zM1078 350h8v1h-8zM1070 351h8v1h-8zM1062 352h8v1h-8zM1054 353h8v1h-8zM1046 354h8v1h-8zM1038 355h8v1h-8zM1030 356h8v1h-8zM1022 357h8v1h-8zM1014 358h8v1h-8zM1006 359h8v1h-8zM990 360h16v1h-16zM982 361h8v1h-8zM966 362h16v1h-16zM958 363h8v1h-8zM942 364h16v1h-16zM918 365h24v1h-24zM894 366h24v1h-24zM878 367h16v1h-16zM862 368h16v1h-16zM854 369h8v1h-8zM838 370h16v1h-16zM822 371h16v1h-16zM782 372h40v1h-40zM742 373h40v1h-40zM726 374h16v1h-16zM710 375h16v1h-16zM462 376h104v1h-104zM678 376h32v1h-32zM438 377h24v1h-24zM566 377h56v1h-56zM638 377h40v1h-40zM422 378h16v1h-16zM622 378h16v1h-16zM390 379h32v1h-32zM326 380h64v1h-64zM302 381h24v1h-24zM270 382h32v1h-32zM214 383h56v1h-56zM190 384h24v1h-24zM174 385h16v1h-16zM158 386h16v1h-16zM142 387h16v1h-16zM126 388h16v1h-16zM118 389h8v1h-8zM110 390h8v1h-8zM102 391h8v1h-8zM94 392h8v1h-8zM88 393h6v1h-6zM84 394h4v1h-4zM78 395h6v1h-6zM70 396h8v1h-8zM62 397h8v1h-8zM54 398h8v1h-8zM48 399h6v1h-6zM44 400h4v1h-4zM38 401h6v1h-6zM30 402h8v1h-8zM22 403h8v1h-8zM14 404h8v1h-8zM6 405h8v1h-8zM2 406h4v1h-4z" fill="#ff0000"/>
<path d="M1657 121h2v1h-2zM1654 122h3v1h-3zM1652 123h2v1h-2zM1649 124h3v1h-3zM1647 125h2v1h-2zM1645 126h2v1h-2zM1643 127h2v1h-2zM1641 128h2v1h-2zM1639 129h2v1h-2zM1637 130h2v1h-2zM1635 131h2v1h-2zM1633 132h2v1h-2zM1631 133h2v1h-2zM1629 134h2v1h-2zM1627 135h2v1h-2zM1626 136h1v1h-1zM1624 137h2v1h-2zM1622 138h2v1h-2zM1621 139h1v1h-1zM1619 140h2v1h-2zM1618 141h1v1h-1zM1616 142h2v1h-2zM1615 143h1v1h-1zM1614 144h1v1h-1zM1612 145h2v1h-2zM1611 146h1v1h-1zM1610 147h1v1h-1zM1608 148h2v1h-2zM1606 149h2v1h-2zM1605 150h1v1h-1zM1603 151h2v1h-2zM1602 152h1v1h-1zM1600 153h2v1h-2zM1598 154h2v1h-2zM1597 155h1v1h-1zM1595 156h2v1h-2zM1593 157h2v1h-2zM1591 158h2v1h-2zM1589 159h2v1h-2zM1587 160h2v1h-2zM1586 161h1v1h-1zM1584 162h2v1h-2zM1583 163h1v1h-1zM1582 164h1v1h-1zM1580 165h2v1h-2zM1579 166h1v1h-1zM1577 167h2v1h-2zM1575 168h2v1h-2zM1573 169h2v1h-2zM1571 170h2v1h-2zM1569 171h2v1h-2zM1566 172h3v1h-3zM1564 173h2v1h-2zM1561 174h3v1h-3zM1558 175h3v1h-3zM1556 176h2v1h-2zM1553 177h3v1h-3zM1550 178h3v1h-3zM1548 179h2v1h-2zM1545 180h3v1h-3zM1543 181h2v1h-2zM1541 182h2v1h-2zM1539 183h2v1h-2zM1537 184h2v1h-2zM1535 185h2v1h-2zM1533 186h2v1h-2zM1531 187h2v1h-2zM1526 188h5v1h-5zM1520 189h6v1h-6zM1516 190h4v1h-4zM1454 191h6v1h-6zM1512 191h4v1h-4zM1446 192h8v1h-8zM1460 192h4v1h-4zM1508 192h4v1h-4zM1430 193h16v1h-16zM1464 193h14v1h-14zM1502 193h6v1h-6zM1414 194h16v1h-16zM1478 194h24v1h-24zM1406 195h8v1h-8zM1398 196h8v1h-8zM1382 197h16v1h-16zM1358 198h24v1h-24zM1352 199h6v1h-6zM1348 200h4v1h-4zM1337 201h11v1h-11zM1334 202h3v1h-3zM1332 203h2v1h-2zM1329 204h3v1h-3zM1326 205h3v1h-3zM1324 206h2v1h-2zM1321 207h3v1h-3zM1319 208h2v1h-2zM1317 209h2v1h-2zM1315 210h2v1h-2zM1313 211h2v1h-2zM1310 212h3v1h-3zM1308 213h2v1h-2zM1304 214h4v1h-4zM1300 215h4v1h-4zM1297 216h3v1h-3zM1294 217h3v1h-3zM1292 218h2v1h-2zM1286 219h6v1h-6zM1278 220h8v1h-8zM1246 221h32v1h-32zM1222 222h24v1h-24zM1216 223h6v1h-6zM1212 224h4v1h-4zM1206 225h6v1h-6zM1201 226h5v1h-5zM1198 227h3v1h-3zM1196 228h2v1h-2zM1190 229h6v1h-6zM1182 230h8v1h-8zM1169 231h13v1h-13zM1166 232h3v1h-3zM1164 233h2v1h-2zM1161 234h3v1h-3zM1158 235h3v1h-3zM1156 236h2v1h-2zM1150 237h6v1h-6zM1142 238h8v1h-8zM1137 239h5v1h-5zM1135 240h2v1h-2zM1133 241h2v1h-2zM1131 242h2v1h-2zM1129 243h2v1h-2zM1126 244h3v1h-3zM1124 245h2v1h-2zM1121 246h3v1h-3zM1119 247h2v1h-2zM1117 248h2v1h-2zM1115 249h2v1h-2zM1114 250h1v1h-1zM1112 251h2v1h-2zM1110 252h2v1h-2zM1109 253h1v1h-1zM1107 254h2v1h-2zM1106 255h1v1h-1zM1104 256h2v1h-2zM1103 257h1v1h-1zM1102 258h1v1h-1zM1100 259h2v1h-2zM1099 260h1v1h-1zM1098 261h1v1h-1zM1097 262h1v1h-1zM1096 263h1v1h-1zM1095 264h1v1h-1zM1094 265h1v1h-1zM1093 266h1v1h-1zM1092 267h1v1h-1zM1091 268h1v1h-1zM1090 269h1v1h-1zM1089 270h1v1h-1zM1088 271h1v1h-1zM1086 272h2v1h-2zM1085 273h1v1h-1zM1084 274h1v1h-1zM1083 275h1v1h-1zM1082 276h1v1h-1zM1081 277h1v1h-1zM1080 278h1v1h-1zM1078 279h2v1h-2zM1077 280h1v1h-1zM1076 281h1v1h-1zM1075 282h1v1h-1zM1074 283h1v1h-1zM1073 284h1v1h-1zM1072 285h1v1h-1zM1070 286h2v1h-2zM1069 287h1v1h-1zM1068 288h1v1h-1zM1067 289h1v1h-1zM1066 290h1v1h-1zM1064 291h2v1h-2zM1063 292h1v1h-1zM1062 293h1v1h-1zM1060 294h2v1h-2zM1059 295h1v1h-1zM1058 296h1v1h-1zM1056 297h2v1h-2zM1055 298h1v1h-1zM1054 299h1v1h-1zM1052 300h2v1h-2zM1051 301h1v1h-1zM1050 302h1v1h-1zM1048 303h2v1h-2zM1046 304h2v1h-2zM1045 305h1v1h-1zM1043 306h2v1h-2zM1041 307h2v1h-2zM2 308h12v1h-12zM1039 308h2v1h-2zM14 309h8v1h-8zM1037 309h2v1h-2zM22 310h6v1h-6zM1035 310h2v1h-2zM28 311h2v1h-2zM1033 311h2v1h-2zM30 312h3v1h-3zM1031 312h2v1h-2zM33 313h3v1h-3zM1029 313h2v1h-2zM36 314h2v1h-2zM1027 314h2v1h-2zM38 315h3v1h-3zM1026 315h1v1h-1zM41 316h3v1h-3zM1024 316h2v1h-2zM44 317h2v1h-2zM1022 317h2v1h-2zM46 318h3v1h-3zM1021 318h1v1h-1zM49 319h3v1h-3zM1019 319h2v1h-2zM52 320h2v1h-2zM1018 320h1v1h-1zM54 321h3v1h-3zM1016 321h2v1h-2zM57 322h3v1h-3zM1014 322h2v1h-2zM60 323h2v1h-2zM1013 323h1v1h-1zM62 324h3v1h-3zM1011 324h2v1h-2zM65 325h3v1h-3zM1010 325h1v1h-1zM68 326h4v1h-4zM1008 326h2v1h-2zM72 327h4v1h-4zM1006 327h2v1h-2zM76 328h2v1h-2zM350 328h30v1h-30zM1005 328h1v1h-1zM78 329h3v1h-3zM342 329h8v1h-8zM380 329h2v1h-2zM1003 329h2v1h-2zM81 330h3v1h-3zM337 330h5v1h-5zM382 330h3v1h-3zM1001 330h2v1h-2zM84 331h2v1h-2zM334 331h3v1h-3zM385 331h3v1h-3zM998 331h3v1h-3zM86 332h3v1h-3zM332 332h2v1h-2zM388 332h2v1h-2zM996 332h2v1h-2zM89 333h2v1h-2zM329 333h3v1h-3zM390 333h3v1h-3zM993 333h3v1h-3zM91 334h2v1h-2zM327 334h2v1h-2zM393 334h2v1h-2zM990 334h3v1h-3zM93 335h1v1h-1zM325 335h2v1h-2zM395 335h2v1h-2zM988 335h2v1h-2zM94 336h2v1h-2zM323 336h2v1h-2zM397 336h2v1h-2zM985 336h3v1h-3zM96 337h2v1h-2zM321 337h2v1h-2zM399 337h2v1h-2zM792 337h4v1h-4zM983 337h2v1h-2zM98 338h2v1h-2zM318 338h3v1h-3zM401 338h2v1h-2zM788 338h4v1h-4zM796 338h4v1h-4zM981 338h2v1h-2zM100 339h2v1h-2zM316 339h2v1h-2zM403 339h2v1h-2zM774 339h14v1h-14zM800 339h6v1h-6zM979 339h2v1h-2zM102 340h3v1h-3zM314 340h2v1h-2zM405 340h1v1h-1zM766 340h8v1h-8zM806 340h8v1h-8zM977 340h2v1h-2zM105 341h3v1h-3zM312 341h2v1h-2zM406 341h2v1h-2zM750 341h16v1h-16zM814 341h8v1h-8zM974 341h3v1h-3zM108 342h2v1h-2zM311 342h1v1h-1zM408 342h2v1h-2zM744 342h6v1h-6zM822 342h14v1h-14zM972 342h2v1h-2zM110 343h3v1h-3zM310 343h1v1h-1zM410 343h1v1h-1zM740 343h4v1h-4zM836 343h4v1h-4zM968 343h4v1h-4zM113 344h3v1h-3zM308 344h2v1h-2zM411 344h2v1h-2zM737 344h3v1h-3zM840 344h12v1h-12zM964 344h4v1h-4zM116 345h2v1h-2zM307 345h1v1h-1zM413 345h1v1h-1zM734 345h3v1h-3zM852 345h4v1h-4zM960 345h4v1h-4zM118 346h3v1h-3zM306 346h1v1h-1zM414 346h2v1h-2zM732 346h2v1h-2zM856 346h20v1h-20zM956 346h4v1h-4zM121 347h3v1h-3zM304 347h2v1h-2zM416 347h2v1h-2zM730 347h2v1h-2zM876 347h4v1h-4zM950 347h6v1h-6zM124 348h4v1h-4zM303 348h1v1h-1zM418 348h1v1h-1zM728 348h2v1h-2zM880 348h6v1h-6zM942 348h8v1h-8zM128 349h3v1h-3zM302 349h1v1h-1zM419 349h2v1h-2zM726 349h2v1h-2zM886 349h8v1h-8zM934 349h8v1h-8zM131 350h2v1h-2zM300 350h2v1h-2zM421 350h2v1h-2zM725 350h1v1h-1zM894 350h8v1h-8zM928 350h6v1h-6zM133 351h2v1h-2zM299 351h1v1h-1zM423 351h2v1h-2zM723 351h2v1h-2zM902 351h8v1h-8zM924 351h4v1h-4zM135 352h2v1h-2zM298 352h1v1h-1zM425 352h2v1h-2zM722 352h1v1h-1zM910 352h14v1h-14zM137 353h2v1h-2zM296 353h2v1h-2zM427 353h2v1h-2zM720 353h2v1h-2zM139 354h2v1h-2zM294 354h2v1h-2zM429 354h2v1h-2zM719 354h1v1h-1zM141 355h2v1h-2zM293 355h1v1h-1zM431 355h2v1h-2zM718 355h1v1h-1zM143 356h2v1h-2zM291 356h2v1h-2zM433 356h2v1h-2zM716 356h2v1h-2zM145 357h3v1h-3zM290 357h1v1h-1zM435 357h2v1h-2zM715 357h1v1h-1zM148 358h2v1h-2zM288 358h2v1h-2zM437 358h2v1h-2zM714 358h1v1h-1zM150 359h3v1h-3zM286 359h2v1h-2zM439 359h2v1h-2zM712 359h2v1h-2zM153 360h3v1h-3zM285 360h1v1h-1zM441 360h3v1h-3zM710 360h2v1h-2zM156 361h2v1h-2zM283 361h2v1h-2zM444 361h2v1h-2zM709 361h1v1h-1zM158 362h3v1h-3zM281 362h2v1h-2zM446 362h3v1h-3zM707 362h2v1h-2zM161 363h3v1h-3zM278 363h3v1h-3zM449 363h2v1h-2zM706 363h1v1h-1zM164 364h2v1h-2zM276 364h2v1h-2zM451 364h2v1h-2zM704 364h2v1h-2zM166 365h3v1h-3zM273 365h3v1h-3zM453 365h1v1h-1zM703 365h1v1h-1zM169 366h3v1h-3zM271 366h2v1h-2zM454 366h2v1h-2zM702 366h1v1h-1zM172 367h4v1h-4zM269 367h2v1h-2zM456 367h2v1h-2zM700 367h2v1h-2zM176 368h4v1h-4zM267 368h2v1h-2zM458 368h1v1h-1zM699 368h1v1h-1zM180 369h4v1h-4zM265 369h2v1h-2zM459 369h2v1h-2zM698 369h1v1h-1zM184 370h12v1h-12zM263 370h2v1h-2zM461 370h2v1h-2zM696 370h2v1h-2zM196 371h4v1h-4zM261 371h2v1h-2zM463 371h2v1h-2zM694 371h2v1h-2zM200 372h6v1h-6zM259 372h2v1h-2zM465 372h2v1h-2zM693 372h1v1h-1zM206 373h8v1h-8zM256 373h3v1h-3zM467 373h1v1h-1zM691 373h2v1h-2zM214 374h8v1h-8zM252 374h4v1h-4zM468 374h2v1h-2zM690 374h1v1h-1zM222 375h30v1h-30zM470 375h1v1h-1zM688 375h2v1h-2zM471 376h1v1h-1zM686 376h2v1h-2zM472 377h2v1h-2zM685 377h1v1h-1zM474 378h1v1h-1zM683 378h2v1h-2zM475 379h1v1h-1zM682 379h1v1h-1zM476 380h1v1h-1zM680 380h2v1h-2zM477 381h1v1h-1zM678 381h2v1h-2zM478 382h1v1h-1zM677 382h1v1h-1zM478 383h1v1h-1zM675 383h2v1h-2zM479 384h1v1h-1zM674 384h1v1h-1zM480 385h1v1h-1zM673 385h1v1h-1zM481 386h1v1h-1zM672 386h1v1h-1zM482 387h1v1h-1zM670 387h2v1h-2zM483 388h1v1h-1zM669 388h1v1h-1zM484 389h1v1h-1zM668 389h1v1h-1zM485 390h1v1h-1zM667 390h1v1h-1zM486 391h2v1h-2zM666 391h1v1h-1zM488 392h1v1h-1zM664 392h2v1h-2zM489 393h1v1h-1zM663 393h1v1h-1zM490 394h1v1h-1zM662 394h1v1h-1zM491 395h1v1h-1zM660 395h2v1h-2zM492 396h1v1h-1zM659 396h1v1h-1zM493 397h1v1h-1zM658 397h1v1h-1zM494 398h1v1h-1zM657 398h1v1h-1zM494 399h1v1h-1zM656 399h1v1h-1zM495 400h1v1h-1zM655 400h1v1h-1zM496 401h1v1h-1zM654 401h1v1h-1zM497 402h1v1h-1zM653 402h1v1h-1zM498 403h1v1h-1zM652 403h1v1h-1zM499 404h1v1h-1zM651 404h1v1h-1zM500 405h2v1h-2zM650 405h1v1h-1zM502 406h1v1h-1zM649 406h1v1h-1zM503 407h1v1h-1zM648 407h1v1h-1zM504 408h2v1h-2zM647 408h1v1h-1zM506 409h1v1h-1zM646 409h1v1h-1zM507 410h2v1h-2zM645 410h1v1h-1zM509 411h1v1h-1zM644 411h1v1h-1zM510 412h2v1h-2zM643 412h1v1h-1zM512 413h2v1h-2zM642 413h1v1h-1zM514 414h1v1h-1zM640 414h2v1h-2zM515 415h2v1h-2zM638 415h2v1h-2zM517 416h1v1h-1zM637 416h1v1h-1zM518 417h2v1h-2zM635 417h2v1h-2zM520 418h2v1h-2zM633 418h2v1h-2zM522 419h1v1h-1zM631 419h2v1h-2zM523 420h2v1h-2zM629 420h2v1h-2zM525 421h1v1h-1zM627 421h2v1h-2zM526 422h2v1h-2zM622 422h5v1h-5zM528 423h2v1h-2zM616 423h6v1h-6zM530 424h1v1h-1zM612 424h4v1h-4zM531 425h2v1h-2zM590 425h22v1h-22zM533 426h2v1h-2zM584 426h6v1h-6zM535 427h2v1h-2zM580 427h4v1h-4zM537 428h3v1h-3zM576 428h4v1h-4zM540 429h2v1h-2zM572 429h4v1h-4zM542 430h3v1h-3zM566 430h6v1h-6zM545 431h5v1h-5zM558 431h8v1h-8zM550 432h8v1h-8z" fill="#ffa500"/>
<path d="M1656 167h3v1h-3zM1652 168h4v1h-4zM1648 169h4v1h-4zM1644 170h4v1h-4zM1640 171h4v1h-4zM1636 172h4v1h-4zM1632 173h4v1h-4zM1628 174h4v1h-4zM1624 175h4v1h-4zM1620 176h4v1h-4zM1617 177h3v1h-3zM1614 178h3v1h-3zM1612 179h2v1h-2zM1609 180h3v1h-3zM1606 181h3v1h-3zM1604 182h2v1h-2zM1600 183h4v1h-4zM1596 184h4v1h-4zM1593 185h3v1h-3zM1590 186h3v1h-3zM1588 187h2v1h-2zM1585 188h3v1h-3zM1582 189h3v1h-3zM1580 190h2v1h-2zM1576 191h4v1h-4zM1572 192h4v1h-4zM1568 193h4v1h-4zM1564 194h4v1h-4zM1560 195h4v1h-4zM1556 196h4v1h-4zM1552 197h4v1h-4zM1548 198h4v1h-4zM1542 199h6v1h-6zM1534 200h8v1h-8zM1526 201h8v1h-8zM1510 202h16v1h-16zM1502 203h8v1h-8zM1494 204h8v1h-8zM1488 205h6v1h-6zM1484 206h4v1h-4zM1478 207h6v1h-6zM1472 208h6v1h-6zM1468 209h4v1h-4zM1456 210h12v1h-12zM1452 211h4v1h-4zM1446 212h6v1h-6zM1438 213h8v1h-8zM1432 214h6v1h-6zM1428 215h4v1h-4zM1422 216h6v1h-6zM1416 217h6v1h-6zM1412 218h4v1h-4zM1408 219h4v1h-4zM1404 220h4v1h-4zM1398 221h6v1h-6zM1393 222h5v1h-5zM1390 223h3v1h-3zM1388 224h2v1h-2zM1384 225h4v1h-4zM1380 226h4v1h-4zM1377 227h3v1h-3zM1374 228h3v1h-3zM1372 229h2v1h-2zM1368 230h4v1h-4zM1364 231h4v1h-4zM1361 232h3v1h-3zM1358 233h3v1h-3zM1356 234h2v1h-2zM1353 235h3v1h-3zM1350 236h3v1h-3zM1348 237h2v1h-2zM1344 238h4v1h-4zM1340 239h4v1h-4zM1337 240h3v1h-3zM1334 241h3v1h-3zM1332 242h2v1h-2zM1329 243h3v1h-3zM1327 244h2v1h-2zM1325 245h2v1h-2zM1323 246h2v1h-2zM1321 247h2v1h-2zM1318 248h3v1h-3zM1316 249h2v1h-2zM1313 250h3v1h-3zM1310 251h3v1h-3zM1308 252h2v1h-2zM1305 253h3v1h-3zM1302 254h3v1h-3zM1300 255h2v1h-2zM1297 256h3v1h-3zM1295 257h2v1h-2zM1293 258h2v1h-2zM1291 259h2v1h-2zM1288 260h3v1h-3zM1284 261h4v1h-4zM1281 262h3v1h-3zM1278 263h3v1h-3zM1276 264h2v1h-2zM1272 265h4v1h-4zM1268 266h4v1h-4zM1265 267h3v1h-3zM1262 268h3v1h-3zM1260 269h2v1h-2zM1257 270h3v1h-3zM1254 271h3v1h-3zM1252 272h2v1h-2zM1248 273h4v1h-4zM1244 274h4v1h-4zM1241 275h3v1h-3zM1238 276h3v1h-3zM1236 277h2v1h-2zM1232 278h4v1h-4zM1228 279h4v1h-4zM1225 280h3v1h-3zM1222 281h3v1h-3zM1220 282h2v1h-2zM1216 283h4v1h-4zM1212 284h4v1h-4zM1209 285h3v1h-3zM1206 286h3v1h-3zM1204 287h2v1h-2zM1201 288h3v1h-3zM1198 289h3v1h-3zM1196 290h2v1h-2zM1192 291h4v1h-4zM1188 292h4v1h-4zM1184 293h4v1h-4zM1180 294h4v1h-4zM1176 295h4v1h-4zM1172 296h4v1h-4zM1168 297h4v1h-4zM1164 298h4v1h-4zM1158 299h6v1h-6zM1152 300h6v1h-6zM1148 301h4v1h-4zM1142 302h6v1h-6zM1137 303h5v1h-5zM1134 304h3v1h-3zM1132 305h2v1h-2zM1128 306h4v1h-4zM1124 307h4v1h-4zM1120 308h4v1h-4zM1116 309h4v1h-4zM1110 310h6v1h-6zM1105 311h5v1h-5zM1102 312h3v1h-3zM1100 313h2v1h-2zM1096 314h4v1h-4zM1092 315h4v1h-4zM1088 316h4v1h-4zM1084 317h4v1h-4zM1080 318h4v1h-4zM1076 319h4v1h-4zM88 320h30v1h-30zM1072 320h4v1h-4zM84 321h4v1h-4zM118 321h16v1h-16zM1068 321h4v1h-4zM78 322h6v1h-6zM134 322h8v1h-8zM1065 322h3v1h-3zM70 323h8v1h-8zM142 323h8v1h-8zM1062 323h3v1h-3zM64 324h6v1h-6zM150 324h8v1h-8zM1060 324h2v1h-2zM60 325h4v1h-4zM158 325h8v1h-8zM1056 325h4v1h-4zM56 326h4v1h-4zM166 326h8v1h-8zM1052 326h4v1h-4zM52 327h4v1h-4zM174 327h8v1h-8zM1048 327h4v1h-4zM46 328h6v1h-6zM182 328h14v1h-14zM1044 328h4v1h-4zM38 329h8v1h-8zM196 329h4v1h-4zM1041 329h3v1h-3zM32 330h6v1h-6zM200 330h6v1h-6zM1038 330h3v1h-3zM28 331h4v1h-4zM206 331h6v1h-6zM1036 331h2v1h-2zM24 332h4v1h-4zM212 332h4v1h-4zM1032 332h4v1h-4zM20 333h4v1h-4zM216 333h4v1h-4zM1028 333h4v1h-4zM16 334h4v1h-4zM220 334h2v1h-2zM1024 334h4v1h-4zM12 335h4v1h-4zM222 335h3v1h-3zM1020 335h4v1h-4zM8 336h4v1h-4zM225 336h3v1h-3zM1016 336h4v1h-4zM4 337h4v1h-4zM228 337h4v1h-4zM1012 337h4v1h-4zM2 338h2v1h-2zM232 338h6v1h-6zM262 338h48v1h-48zM1009 338h3v1h-3zM238 339h24v1h-24zM310 339h16v1h-16zM1006 339h3v1h-3zM326 340h8v1h-8zM1004 340h2v1h-2zM334 341h8v1h-8zM1001 341h3v1h-3zM342 342h8v1h-8zM998 342h3v1h-3zM350 343h6v1h-6zM996 343h2v1h-2zM356 344h4v1h-4zM993 344h3v1h-3zM360 345h6v1h-6zM990 345h3v1h-3zM366 346h8v1h-8zM988 346h2v1h-2zM374 347h6v1h-6zM985 347h3v1h-3zM380 348h4v1h-4zM982 348h3v1h-3zM384 349h6v1h-6zM980 349h2v1h-2zM390 350h6v1h-6zM977 350h3v1h-3zM396 351h4v1h-4zM974 351h3v1h-3zM400 352h6v1h-6zM972 352h2v1h-2zM406 353h8v1h-8zM968 353h4v1h-4zM414 354h6v1h-6zM964 354h4v1h-4zM420 355h4v1h-4zM961 355h3v1h-3zM424 356h6v1h-6zM958 356h3v1h-3zM430 357h8v1h-8zM956 357h2v1h-2zM438 358h8v1h-8zM952 358h4v1h-4zM446 359h8v1h-8zM948 359h4v1h-4zM454 360h6v1h-6zM945 360h3v1h-3zM460 361h4v1h-4zM942 361h3v1h-3zM464 362h6v1h-6zM940 362h2v1h-2zM470 363h6v1h-6zM936 363h4v1h-4zM476 364h2v1h-2zM932 364h4v1h-4zM478 365h3v1h-3zM929 365h3v1h-3zM481 366h3v1h-3zM926 366h3v1h-3zM484 367h4v1h-4zM924 367h2v1h-2zM488 368h4v1h-4zM920 368h4v1h-4zM492 369h2v1h-2zM916 369h4v1h-4zM494 370h3v1h-3zM910 370h6v1h-6zM497 371h3v1h-3zM902 371h8v1h-8zM500 372h4v1h-4zM894 372h8v1h-8zM504 373h4v1h-4zM886 373h8v1h-8zM508 374h4v1h-4zM878 374h8v1h-8zM512 375h4v1h-4zM862 375h16v1h-16zM516 376h2v1h-2zM670 376h8v1h-8zM854 376h8v1h-8zM518 377h3v1h-3zM654 377h16v1h-16zM678 377h16v1h-16zM846 377h8v1h-8zM521 378h5v1h-5zM646 378h8v1h-8zM694 378h32v1h-32zM840 378h6v1h-6zM526 379h8v1h-8zM638 379h8v1h-8zM726 379h16v1h-16zM836 379h4v1h-4zM534 380h8v1h-8zM606 380h32v1h-32zM742 380h8v1h-8zM832 380h4v1h-4zM542 381h8v1h-8zM582 381h24v1h-24zM750 381h8v1h-8zM828 381h4v1h-4zM550 382h8v1h-8zM574 382h8v1h-8zM758 382h6v1h-6zM822 382h6v1h-6zM558 383h16v1h-16zM764 383h4v1h-4zM806 383h16v1h-16zM768 384h38v1h-38z" fill="#ff00ff"/>
<rect x="2" y="116" width="1680" height="2" fill="#32cd32"/>
<rect x="2" y="162" width="1680" height="2" fill="#4169e1"/>
<rect x="2" y="225" width="1680" height="2" fill="#4169e1"/>
<rect x="2" y="272" width="1680" height="2" fill="#4169e1"/>
</g>
<rect x="1684" y="99" width="41" height="11" fill="#000000"/>
<text x="1688.5" y="108" font-family="Liberation Sans, Arial, sans-serif" text-rendering="geometricPrecision" class="t" font-size="10" fill="#fff" stroke="#fff" textLength="32" lengthAdjust="spacingAndGlyphs">1804.01</text>
<rect x="1684" y="111" width="41" height="11" fill="#32cd32"/>
<text x="1688.5" y="120" font-family="Liberation Sans, Arial, sans-serif" text-rendering="geometricPrecision" class="t" font-size="10" fill="#fff" stroke="#fff" textLength="32" lengthAdjust="spacingAndGlyphs">1800.00</text>
<rect x="1684" y="157" width="41" height="11" fill="#4169e1"/>
<text x="1688.5" y="166" font-family="Liberation Sans, Arial, sans-serif" text-rendering="geometricPrecision" class="t" font-size="10" fill="#fff" stroke="#fff" textLength="32" lengthAdjust="spacingAndGlyphs">1785.00</text>
<rect x="1684" y="220" width="41" height="11" fill="#4169e1"/>
<text x="1688.5" y="229" font-family="Liberation Sans, Arial, sans-serif" text-rendering="geometricPrecision" class="t" font-size="10" fill="#fff" stroke="#fff" textLength="32" lengthAdjust="spacingAndGlyphs">1765.00</text>
<rect x="1684" y="267" width="41" height="11" fill="#4169e1"/>
<text x="1688.5" y="276" font-family="Liberation Sans, Arial, sans-serif" text-rendering="geometricPrecision" class="t" font-size="10" fill="#fff" stroke="#fff" textLength="32" lengthAdjust="spacingAndGlyphs">1750.00</text>
<path d="M5 43 L12 43 L8.5 47 Z" fill="#000"/>
<text x="16.2" y="48" font-family="Liberation Sans, Arial, sans-serif" text-rendering="geometricPrecision" class="t" font-size="10" fill="#000" stroke="#000" textLength="57.9" lengthAdjust="spacingAndGlyphs">XAUUSD-,H4</text>
<text x="80" y="48" font-family="Liberation Sans, Arial, sans-serif" text-rendering="geometricPrecision" class="t" font-size="10" fill="#000" stroke="#000" textLength="32.9" lengthAdjust="spacingAndGlyphs">1803.02</text>
<text x="116" y="48" font-family="Liberation Sans, Arial, sans-serif" text-rendering="geometricPrecision" class="t" font-size="10" fill="#000" stroke="#000" textLength="32.9" lengthAdjust="spacingAndGlyphs">1804.05</text>
<text x="151.8" y="48" font-family="Liberation Sans, Arial, sans-serif" text-rendering="geometricPrecision" class="t" font-size="10" fill="#000" stroke="#000" textLength="32.9" lengthAdjust="spacingAndGlyphs">1802.63</text>
<text x="187.7" y="48" font-family="Liberation Sans, Arial, sans-serif" text-rendering="geometricPrecision" class="t" font-size="10" fill="#000" stroke="#000" textLength="32.9" lengthAdjust="spacingAndGlyphs">1804.01</text>
<text y="430" font-family="Liberation Sans, Noto Sans CJK SC, sans-serif" font-size="37" fill="#ed1c24"><tspan x="1226.2">多</tspan><tspan x="1262.1">空</tspan><tspan x="1298.6">转</tspan><tspan x="1334.4">折</tspan><tspan x="1370.6">点</tspan></text>
<text x="1407.5" y="429" font-family="Liberation Sans, sans-serif" font-size="42" fill="#ed1c24" textLength="83.6" lengthAdjust="spacingAndGlyphs">1800</text>
<g clip-path="url(#cd)" shape-rendering="crispEdges">
<rect x="2" y="607" width="1" height="9" fill="#c0c0c0"/>
<rect x="10" y="607" width="1" height="9" fill="#c0c0c0"/>
<rect x="18" y="607" width="1" height="9" fill="#c0c0c0"/>
<rect x="26" y="607" width="1" height="11" fill="#c0c0c0"/>
<rect x="34" y="607" width="1" height="13" fill="#c0c0c0"/>
<rect x="42" y="607" width="1" height="14" fill="#c0c0c0"/>
<rect x="50" y="607" width="1" height="12" fill="#c0c0c0"/>
<rect x="58" y="607" width="1" height="12" fill="#c0c0c0"/>
<rect x="66" y="607" width="1" height="15" fill="#c0c0c0"/>
<rect x="74" y="607" width="1" height="11" fill="#c0c0c0"/>
<rect x="82" y="607" width="1" height="11" fill="#c0c0c0"/>
<rect x="90" y="607" width="1" height="12" fill="#c0c0c0"/>
<rect x="98" y="607" width="1" height="19" fill="#c0c0c0"/>
<rect x="106" y="607" width="1" height="25" fill="#c0c0c0"/>
<rect x="114" y="607" width="1" height="29" fill="#c0c0c0"/>
<rect x="122" y="607" width="1" height="34" fill="#c0c0c0"/>
<rect x="130" y="607" width="1" height="38" fill="#c0c0c0"/>
<rect x="138" y="607" width="1" height="44" fill="#c0c0c0"/>
<rect x="146" y="607" width="1" height="48" fill="#c0c0c0"/>
<rect x="154" y="607" width="1" height="44" fill="#c0c0c0"/>
<rect x="162" y="607" width="1" height="43" fill="#c0c0c0"/>
<rect x="170" y="607" width="1" height="39" fill="#c0c0c0"/>
<rect x="178" y="607" width="1" height="34" fill="#c0c0c0"/>
<rect x="186" y="607" width="1" height="28" fill="#c0c0c0"/>
<rect x="194" y="607" width="1" height="22" fill="#c0c0c0"/>
<rect x="202" y="607" width="1" height="19" fill="#c0c0c0"/>
<rect x="210" y="607" width="1" height="15" fill="#c0c0c0"/>
<rect x="218" y="607" width="1" height="13" fill="#c0c0c0"/>
<rect x="226" y="607" width="1" height="11" fill="#c0c0c0"/>
<rect x="234" y="607" width="1" height="5" fill="#c0c0c0"/>
<rect x="242" y="605" width="1" height="3" fill="#c0c0c0"/>
<rect x="250" y="601" width="1" height="7" fill="#c0c0c0"/>
<rect x="258" y="594" width="1" height="14" fill="#c0c0c0"/>
<rect x="266" y="589" width="1" height="19" fill="#c0c0c0"/>
<rect x="274" y="585" width="1" height="23" fill="#c0c0c0"/>
<rect x="282" y="584" width="1" height="24" fill="#c0c0c0"/>
<rect x="290" y="581" width="1" height="27" fill="#c0c0c0"/>
<rect x="298" y="580" width="1" height="28" fill="#c0c0c0"/>
<rect x="306" y="578" width="1" height="30" fill="#c0c0c0"/>
<rect x="314" y="578" width="1" height="30" fill="#c0c0c0"/>
<rect x="322" y="580" width="1" height="28" fill="#c0c0c0"/>
<rect x="330" y="580" width="1" height="28" fill="#c0c0c0"/>
<rect x="338" y="585" width="1" height="23" fill="#c0c0c0"/>
<rect x="346" y="590" width="1" height="18" fill="#c0c0c0"/>
<rect x="354" y="595" width="1" height="13" fill="#c0c0c0"/>
<rect x="362" y="600" width="1" height="8" fill="#c0c0c0"/>
<rect x="370" y="606" width="1" height="2" fill="#c0c0c0"/>
<rect x="378" y="607" width="1" height="1" fill="#c0c0c0"/>
<rect x="386" y="607" width="1" height="15" fill="#c0c0c0"/>
<rect x="394" y="607" width="1" height="27" fill="#c0c0c0"/>
<rect x="402" y="607" width="1" height="35" fill="#c0c0c0"/>
<rect x="410" y="607" width="1" height="39" fill="#c0c0c0"/>
<rect x="418" y="607" width="1" height="43" fill="#c0c0c0"/>
<rect x="426" y="607" width="1" height="42" fill="#c0c0c0"/>
<rect x="434" y="607" width="1" height="38" fill="#c0c0c0"/>
<rect x="442" y="607" width="1" height="34" fill="#c0c0c0"/>
<rect x="450" y="607" width="1" height="31" fill="#c0c0c0"/>
<rect x="458" y="607" width="1" height="31" fill="#c0c0c0"/>
<rect x="466" y="607" width="1" height="30" fill="#c0c0c0"/>
<rect x="474" y="607" width="1" height="31" fill="#c0c0c0"/>
<rect x="482" y="607" width="1" height="44" fill="#c0c0c0"/>
<rect x="490" y="607" width="1" height="52" fill="#c0c0c0"/>
<rect x="498" y="607" width="1" height="58" fill="#c0c0c0"/>
<rect x="506" y="607" width="1" height="59" fill="#c0c0c0"/>
<rect x="514" y="607" width="1" height="56" fill="#c0c0c0"/>
<rect x="522" y="607" width="1" height="54" fill="#c0c0c0"/>
<rect x="530" y="607" width="1" height="53" fill="#c0c0c0"/>
<rect x="538" y="607" width="1" height="47" fill="#c0c0c0"/>
<rect x="546" y="607" width="1" height="43" fill="#c0c0c0"/>
<rect x="554" y="607" width="1" height="40" fill="#c0c0c0"/>
<rect x="562" y="607" width="1" height="34" fill="#c0c0c0"/>
<rect x="570" y="607" width="1" height="27" fill="#c0c0c0"/>
<rect x="578" y="607" width="1" height="15" fill="#c0c0c0"/>
<rect x="586" y="607" width="1" height="9" fill="#c0c0c0"/>
<rect x="594" y="607" width="1" height="3" fill="#c0c0c0"/>
<rect x="602" y="606" width="1" height="2" fill="#c0c0c0"/>
<rect x="610" y="601" width="1" height="7" fill="#c0c0c0"/>
<rect x="618" y="594" width="1" height="14" fill="#c0c0c0"/>
<rect x="626" y="592" width="1" height="16" fill="#c0c0c0"/>
<rect x="634" y="580" width="1" height="28" fill="#c0c0c0"/>
<rect x="642" y="573" width="1" height="35" fill="#c0c0c0"/>
<rect x="650" y="569" width="1" height="39" fill="#c0c0c0"/>
<rect x="658" y="565" width="1" height="43" fill="#c0c0c0"/>
<rect x="666" y="566" width="1" height="42" fill="#c0c0c0"/>
<rect x="674" y="563" width="1" height="45" fill="#c0c0c0"/>
<rect x="682" y="565" width="1" height="43" fill="#c0c0c0"/>
<rect x="690" y="568" width="1" height="40" fill="#c0c0c0"/>
<rect x="698" y="571" width="1" height="37" fill="#c0c0c0"/>
<rect x="706" y="571" width="1" height="37" fill="#c0c0c0"/>
<rect x="714" y="569" width="1" height="39" fill="#c0c0c0"/>
<rect x="722" y="569" width="1" height="39" fill="#c0c0c0"/>
<rect x="730" y="571" width="1" height="37" fill="#c0c0c0"/>
<rect x="738" y="572" width="1" height="36" fill="#c0c0c0"/>
<rect x="746" y="575" width="1" height="33" fill="#c0c0c0"/>
<rect x="754" y="582" width="1" height="26" fill="#c0c0c0"/>
<rect x="762" y="592" width="1" height="16" fill="#c0c0c0"/>
<rect x="770" y="596" width="1" height="12" fill="#c0c0c0"/>
<rect x="778" y="596" width="1" height="12" fill="#c0c0c0"/>
<rect x="786" y="598" width="1" height="10" fill="#c0c0c0"/>
<rect x="794" y="597" width="1" height="11" fill="#c0c0c0"/>
<rect x="802" y="597" width="1" height="11" fill="#c0c0c0"/>
<rect x="810" y="597" width="1" height="11" fill="#c0c0c0"/>
<rect x="818" y="598" width="1" height="10" fill="#c0c0c0"/>
<rect x="826" y="599" width="1" height="9" fill="#c0c0c0"/>
<rect x="834" y="599" width="1" height="9" fill="#c0c0c0"/>
<rect x="842" y="600" width="1" height="8" fill="#c0c0c0"/>
<rect x="850" y="602" width="1" height="6" fill="#c0c0c0"/>
<rect x="858" y="606" width="1" height="2" fill="#c0c0c0"/>
<rect x="866" y="606" width="1" height="2" fill="#c0c0c0"/>
<rect x="874" y="604" width="1" height="4" fill="#c0c0c0"/>
<rect x="882" y="604" width="1" height="4" fill="#c0c0c0"/>
<rect x="890" y="604" width="1" height="4" fill="#c0c0c0"/>
<rect x="898" y="602" width="1" height="6" fill="#c0c0c0"/>
<rect x="906" y="606" width="1" height="2" fill="#c0c0c0"/>
<rect x="914" y="607" width="1" height="1" fill="#c0c0c0"/>
<rect x="922" y="607" width="1" height="1" fill="#c0c0c0"/>
<rect x="930" y="607" width="1" height="1" fill="#c0c0c0"/>
<rect x="938" y="606" width="1" height="2" fill="#c0c0c0"/>
<rect x="946" y="605" width="1" height="3" fill="#c0c0c0"/>
<rect x="954" y="601" width="1" height="7" fill="#c0c0c0"/>
<rect x="962" y="594" width="1" height="14" fill="#c0c0c0"/>
<rect x="970" y="589" width="1" height="19" fill="#c0c0c0"/>
<rect x="978" y="582" width="1" height="26" fill="#c0c0c0"/>
<rect x="986" y="575" width="1" height="33" fill="#c0c0c0"/>
<rect x="994" y="573" width="1" height="35" fill="#c0c0c0"/>
<rect x="1002" y="571" width="1" height="37" fill="#c0c0c0"/>
<rect x="1010" y="565" width="1" height="43" fill="#c0c0c0"/>
<rect x="1018" y="562" width="1" height="46" fill="#c0c0c0"/>
<rect x="1026" y="560" width="1" height="48" fill="#c0c0c0"/>
<rect x="1034" y="561" width="1" height="47" fill="#c0c0c0"/>
<rect x="1042" y="561" width="1" height="47" fill="#c0c0c0"/>
<rect x="1050" y="560" width="1" height="48" fill="#c0c0c0"/>
<rect x="1058" y="555" width="1" height="53" fill="#c0c0c0"/>
<rect x="1066" y="551" width="1" height="57" fill="#c0c0c0"/>
<rect x="1074" y="548" width="1" height="60" fill="#c0c0c0"/>
<rect x="1082" y="547" width="1" height="61" fill="#c0c0c0"/>
<rect x="1090" y="547" width="1" height="61" fill="#c0c0c0"/>
<rect x="1098" y="543" width="1" height="65" fill="#c0c0c0"/>
<rect x="1106" y="546" width="1" height="62" fill="#c0c0c0"/>
<rect x="1114" y="550" width="1" height="58" fill="#c0c0c0"/>
<rect x="1122" y="555" width="1" height="53" fill="#c0c0c0"/>
<rect x="1130" y="559" width="1" height="49" fill="#c0c0c0"/>
<rect x="1138" y="561" width="1" height="47" fill="#c0c0c0"/>
<rect x="1146" y="567" width="1" height="41" fill="#c0c0c0"/>
<rect x="1154" y="571" width="1" height="37" fill="#c0c0c0"/>
<rect x="1162" y="574" width="1" height="34" fill="#c0c0c0"/>
<rect x="1170" y="575" width="1" height="33" fill="#c0c0c0"/>
<rect x="1178" y="579" width="1" height="29" fill="#c0c0c0"/>
<rect x="1186" y="581" width="1" height="27" fill="#c0c0c0"/>
<rect x="1194" y="583" width="1" height="25" fill="#c0c0c0"/>
<rect x="1202" y="583" width="1" height="25" fill="#c0c0c0"/>
<rect x="1210" y="583" width="1" height="25" fill="#c0c0c0"/>
<rect x="1218" y="582" width="1" height="26" fill="#c0c0c0"/>
<rect x="1226" y="580" width="1" height="28" fill="#c0c0c0"/>
<rect x="1234" y="580" width="1" height="28" fill="#c0c0c0"/>
<rect x="1242" y="581" width="1" height="27" fill="#c0c0c0"/>
<rect x="1250" y="581" width="1" height="27" fill="#c0c0c0"/>
<rect x="1258" y="581" width="1" height="27" fill="#c0c0c0"/>
<rect x="1266" y="581" width="1" height="27" fill="#c0c0c0"/>
<rect x="1274" y="583" width="1" height="25" fill="#c0c0c0"/>
<rect x="1282" y="582" width="1" height="26" fill="#c0c0c0"/>
<rect x="1290" y="586" width="1" height="22" fill="#c0c0c0"/>
<rect x="1298" y="581" width="1" height="27" fill="#c0c0c0"/>
<rect x="1306" y="579" width="1" height="29" fill="#c0c0c0"/>
<rect x="1314" y="577" width="1" height="31" fill="#c0c0c0"/>
<rect x="1322" y="574" width="1" height="34" fill="#c0c0c0"/>
<rect x="1330" y="571" width="1" height="37" fill="#c0c0c0"/>
<rect x="1338" y="572" width="1" height="36" fill="#c0c0c0"/>
<rect x="1346" y="580" width="1" height="28" fill="#c0c0c0"/>
<rect x="1354" y="584" width="1" height="24" fill="#c0c0c0"/>
<rect x="1362" y="590" width="1" height="18" fill="#c0c0c0"/>
<rect x="1370" y="594" width="1" height="14" fill="#c0c0c0"/>
<rect x="1378" y="597" width="1" height="11" fill="#c0c0c0"/>
<rect x="1386" y="598" width="1" height="10" fill="#c0c0c0"/>
<rect x="1394" y="597" width="1" height="11" fill="#c0c0c0"/>
<rect x="1402" y="596" width="1" height="12" fill="#c0c0c0"/>
<rect x="1410" y="597" width="1" height="11" fill="#c0c0c0"/>
<rect x="1418" y="597" width="1" height="11" fill="#c0c0c0"/>
<rect x="1426" y="597" width="1" height="11" fill="#c0c0c0"/>
<rect x="1434" y="598" width="1" height="10" fill="#c0c0c0"/>
<rect x="1442" y="598" width="1" height="10" fill="#c0c0c0"/>
<rect x="1450" y="599" width="1" height="9" fill="#c0c0c0"/>
<rect x="1458" y="599" width="1" height="9" fill="#c0c0c0"/>
<rect x="1466" y="601" width="1" height="7" fill="#c0c0c0"/>
<rect x="1474" y="601" width="1" height="7" fill="#c0c0c0"/>
<rect x="1482" y="599" width="1" height="9" fill="#c0c0c0"/>
<rect x="1490" y="596" width="1" height="12" fill="#c0c0c0"/>
<rect x="1498" y="592" width="1" height="16" fill="#c0c0c0"/>
<rect x="1506" y="590" width="1" height="18" fill="#c0c0c0"/>
<rect x="1514" y="589" width="1" height="19" fill="#c0c0c0"/>
<rect x="1522" y="590" width="1" height="18" fill="#c0c0c0"/>
<rect x="1530" y="592" width="1" height="16" fill="#c0c0c0"/>
<rect x="1538" y="586" width="1" height="22" fill="#c0c0c0"/>
<rect x="1546" y="581" width="1" height="27" fill="#c0c0c0"/>
<rect x="1554" y="578" width="1" height="30" fill="#c0c0c0"/>
<rect x="1562" y="576" width="1" height="32" fill="#c0c0c0"/>
<rect x="1570" y="574" width="1" height="34" fill="#c0c0c0"/>
<rect x="1578" y="569" width="1" height="39" fill="#c0c0c0"/>
<rect x="1586" y="562" width="1" height="46" fill="#c0c0c0"/>
<rect x="1594" y="558" width="1" height="50" fill="#c0c0c0"/>
<rect x="1602" y="556" width="1" height="52" fill="#c0c0c0"/>
<rect x="1610" y="555" width="1" height="53" fill="#c0c0c0"/>
<rect x="1618" y="553" width="1" height="55" fill="#c0c0c0"/>
<rect x="1626" y="554" width="1" height="54" fill="#c0c0c0"/>
<rect x="1634" y="560" width="1" height="48" fill="#c0c0c0"/>
<rect x="1642" y="562" width="1" height="46" fill="#c0c0c0"/>
<rect x="1650" y="565" width="1" height="43" fill="#c0c0c0"/>
<rect x="1658" y="568" width="1" height="40" fill="#c0c0c0"/>
<path d="M1118 547h3v1h-3zM1124 547h3v1h-3zM1130 547h3v1h-3zM1112 548h3v1h-3zM1136 548h3v1h-3zM1106 549h3v1h-3zM1100 550h3v1h-3zM1142 550h3v1h-3zM1096 551h1v1h-1zM1094 552h2v1h-2zM1148 552h3v1h-3zM1088 553h3v1h-3zM1154 553h2v1h-2zM1084 554h1v1h-1zM1156 554h1v1h-1zM1082 555h2v1h-2zM1160 555h1v1h-1zM1076 556h3v1h-3zM1161 556h2v1h-2zM1072 557h1v1h-1zM1640 557h3v1h-3zM1646 557h3v1h-3zM1652 557h3v1h-3zM1658 557h1v1h-1zM1070 558h2v1h-2zM1166 558h1v1h-1zM1636 558h1v1h-1zM1065 559h2v1h-2zM1167 559h2v1h-2zM1634 559h2v1h-2zM1064 560h1v1h-1zM1628 560h3v1h-3zM1060 561h1v1h-1zM1172 561h1v1h-1zM1624 561h1v1h-1zM1058 562h2v1h-2zM1173 562h2v1h-2zM1622 562h2v1h-2zM1052 563h3v1h-3zM1617 563h2v1h-2zM1178 564h2v1h-2zM1616 564h1v1h-1zM1046 565h3v1h-3zM1180 565h1v1h-1zM704 566h3v1h-3zM710 566h3v1h-3zM716 566h3v1h-3zM722 566h3v1h-3zM728 566h3v1h-3zM1184 566h1v1h-1zM1611 566h2v1h-2zM698 567h3v1h-3zM734 567h3v1h-3zM740 567h2v1h-2zM1041 567h2v1h-2zM1185 567h2v1h-2zM1610 567h1v1h-1zM694 568h1v1h-1zM742 568h1v1h-1zM746 568h2v1h-2zM1040 568h1v1h-1zM1606 568h1v1h-1zM692 569h2v1h-2zM748 569h1v1h-1zM1036 569h1v1h-1zM1190 569h3v1h-3zM1604 569h2v1h-2zM752 570h3v1h-3zM1034 570h2v1h-2zM686 571h3v1h-3zM1030 571h1v1h-1zM1196 571h2v1h-2zM1599 571h2v1h-2zM758 572h3v1h-3zM1028 572h2v1h-2zM1198 572h1v1h-1zM1598 572h1v1h-1zM681 573h2v1h-2zM1202 573h2v1h-2zM680 574h1v1h-1zM764 574h2v1h-2zM1024 574h1v1h-1zM1204 574h1v1h-1zM1593 574h2v1h-2zM766 575h1v1h-1zM1022 575h2v1h-2zM1208 575h1v1h-1zM1592 575h1v1h-1zM675 576h2v1h-2zM770 576h2v1h-2zM1209 576h2v1h-2zM674 577h1v1h-1zM772 577h1v1h-1zM1214 577h2v1h-2zM1334 577h3v1h-3zM1340 577h3v1h-3zM1346 577h3v1h-3zM1352 577h3v1h-3zM1358 577h3v1h-3zM1587 577h2v1h-2zM776 578h3v1h-3zM1018 578h1v1h-1zM1216 578h1v1h-1zM1220 578h2v1h-2zM1328 578h3v1h-3zM1364 578h3v1h-3zM1586 578h1v1h-1zM669 579h2v1h-2zM1016 579h2v1h-2zM1222 579h1v1h-1zM1226 579h3v1h-3zM1318 579h1v1h-1zM1322 579h3v1h-3zM1370 579h2v1h-2zM1582 579h1v1h-1zM328 580h1v1h-1zM332 580h3v1h-3zM338 580h3v1h-3zM668 580h1v1h-1zM782 580h1v1h-1zM1232 580h3v1h-3zM1238 580h3v1h-3zM1244 580h2v1h-2zM1262 580h3v1h-3zM1268 580h3v1h-3zM1274 580h3v1h-3zM1280 580h3v1h-3zM1310 580h3v1h-3zM1316 580h2v1h-2zM1372 580h1v1h-1zM1580 580h2v1h-2zM326 581h2v1h-2zM344 581h3v1h-3zM783 581h2v1h-2zM1246 581h1v1h-1zM1250 581h3v1h-3zM1256 581h3v1h-3zM1286 581h3v1h-3zM1292 581h3v1h-3zM1298 581h3v1h-3zM1304 581h3v1h-3zM1376 581h3v1h-3zM1576 581h1v1h-1zM321 582h2v1h-2zM350 582h3v1h-3zM664 582h1v1h-1zM1011 582h2v1h-2zM1382 582h2v1h-2zM1574 582h2v1h-2zM320 583h1v1h-1zM356 583h3v1h-3zM663 583h1v1h-1zM788 583h2v1h-2zM1010 583h1v1h-1zM1384 583h1v1h-1zM1568 583h3v1h-3zM316 584h1v1h-1zM362 584h2v1h-2zM662 584h1v1h-1zM790 584h1v1h-1zM1388 584h3v1h-3zM1564 584h1v1h-1zM314 585h2v1h-2zM364 585h1v1h-1zM794 585h2v1h-2zM1006 585h1v1h-1zM1394 585h2v1h-2zM1562 585h2v1h-2zM310 586h1v1h-1zM368 586h3v1h-3zM796 586h1v1h-1zM1005 586h1v1h-1zM1396 586h1v1h-1zM1556 586h3v1h-3zM308 587h2v1h-2zM658 587h1v1h-1zM800 587h1v1h-1zM1004 587h1v1h-1zM1400 587h1v1h-1zM374 588h1v1h-1zM656 588h2v1h-2zM801 588h2v1h-2zM1401 588h2v1h-2zM1550 588h3v1h-3zM303 589h2v1h-2zM375 589h2v1h-2zM806 589h2v1h-2zM999 589h2v1h-2zM302 590h1v1h-1zM808 590h1v1h-1zM998 590h1v1h-1zM1406 590h3v1h-3zM1544 590h3v1h-3zM380 591h1v1h-1zM651 591h2v1h-2zM812 591h2v1h-2zM1540 591h1v1h-1zM297 592h2v1h-2zM381 592h1v1h-1zM650 592h1v1h-1zM814 592h1v1h-1zM993 592h2v1h-2zM1412 592h3v1h-3zM1534 592h1v1h-1zM1538 592h2v1h-2zM296 593h1v1h-1zM382 593h1v1h-1zM818 593h2v1h-2zM992 593h1v1h-1zM1418 593h2v1h-2zM1526 593h3v1h-3zM1532 593h2v1h-2zM292 594h1v1h-1zM820 594h1v1h-1zM1420 594h1v1h-1zM1520 594h3v1h-3zM290 595h2v1h-2zM386 595h1v1h-1zM646 595h1v1h-1zM824 595h3v1h-3zM987 595h2v1h-2zM1424 595h3v1h-3zM1510 595h1v1h-1zM1514 595h3v1h-3zM387 596h1v1h-1zM645 596h1v1h-1zM830 596h3v1h-3zM836 596h3v1h-3zM842 596h3v1h-3zM986 596h1v1h-1zM1430 596h3v1h-3zM1436 596h3v1h-3zM1442 596h3v1h-3zM1448 596h3v1h-3zM1454 596h3v1h-3zM1460 596h3v1h-3zM1466 596h3v1h-3zM1502 596h3v1h-3zM1508 596h2v1h-2zM285 597h2v1h-2zM388 597h1v1h-1zM644 597h1v1h-1zM848 597h3v1h-3zM982 597h1v1h-1zM1472 597h3v1h-3zM1496 597h3v1h-3zM284 598h1v1h-1zM854 598h3v1h-3zM860 598h2v1h-2zM980 598h2v1h-2zM1478 598h3v1h-3zM1484 598h3v1h-3zM1490 598h3v1h-3zM862 599h1v1h-1zM866 599h3v1h-3zM279 600h2v1h-2zM392 600h2v1h-2zM872 600h3v1h-3zM974 600h3v1h-3zM278 601h1v1h-1zM394 601h1v1h-1zM640 601h1v1h-1zM878 601h3v1h-3zM884 601h2v1h-2zM638 602h2v1h-2zM886 602h1v1h-1zM890 602h3v1h-3zM896 602h3v1h-3zM968 602h3v1h-3zM274 603h1v1h-1zM902 603h3v1h-3zM908 603h2v1h-2zM958 603h1v1h-1zM962 603h3v1h-3zM272 604h2v1h-2zM398 604h1v1h-1zM910 604h1v1h-1zM914 604h3v1h-3zM920 604h3v1h-3zM926 604h3v1h-3zM932 604h3v1h-3zM938 604h3v1h-3zM950 604h3v1h-3zM956 604h2v1h-2zM399 605h1v1h-1zM944 605h3v1h-3zM400 606h1v1h-1zM634 606h1v1h-1zM2 607h2v1h-2zM267 607h2v1h-2zM632 607h2v1h-2zM4 608h1v1h-1zM266 608h1v1h-1zM8 609h3v1h-3zM404 609h1v1h-1zM261 610h2v1h-2zM405 610h1v1h-1zM628 610h1v1h-1zM14 611h3v1h-3zM260 611h1v1h-1zM406 611h1v1h-1zM627 611h1v1h-1zM626 612h1v1h-1zM20 613h3v1h-3zM256 613h1v1h-1zM26 614h2v1h-2zM254 614h2v1h-2zM28 615h1v1h-1zM410 615h1v1h-1zM622 615h1v1h-1zM32 616h3v1h-3zM411 616h1v1h-1zM621 616h1v1h-1zM38 617h2v1h-2zM250 617h1v1h-1zM412 617h1v1h-1zM620 617h1v1h-1zM40 618h1v1h-1zM44 618h2v1h-2zM248 618h2v1h-2zM46 619h1v1h-1zM50 619h3v1h-3zM56 619h3v1h-3zM62 619h3v1h-3zM68 619h3v1h-3zM74 619h3v1h-3zM80 620h3v1h-3zM86 620h3v1h-3zM92 620h2v1h-2zM416 620h1v1h-1zM616 620h1v1h-1zM94 621h1v1h-1zM98 621h3v1h-3zM243 621h2v1h-2zM417 621h1v1h-1zM615 621h1v1h-1zM104 622h3v1h-3zM242 622h1v1h-1zM418 622h1v1h-1zM614 622h1v1h-1zM110 623h3v1h-3zM116 624h2v1h-2zM237 624h2v1h-2zM118 625h1v1h-1zM236 625h1v1h-1zM422 625h1v1h-1zM610 625h1v1h-1zM122 626h2v1h-2zM423 626h1v1h-1zM608 626h2v1h-2zM124 627h1v1h-1zM232 627h1v1h-1zM424 627h1v1h-1zM128 628h1v1h-1zM230 628h2v1h-2zM129 629h2v1h-2zM428 629h1v1h-1zM604 629h1v1h-1zM429 630h1v1h-1zM603 630h1v1h-1zM134 631h3v1h-3zM225 631h2v1h-2zM430 631h1v1h-1zM602 631h1v1h-1zM224 632h1v1h-1zM140 633h1v1h-1zM434 633h1v1h-1zM141 634h2v1h-2zM219 634h2v1h-2zM435 634h2v1h-2zM598 634h1v1h-1zM218 635h1v1h-1zM596 635h2v1h-2zM146 636h1v1h-1zM440 636h1v1h-1zM147 637h2v1h-2zM213 637h2v1h-2zM441 637h2v1h-2zM212 638h1v1h-1zM592 638h1v1h-1zM152 639h1v1h-1zM446 639h1v1h-1zM591 639h1v1h-1zM153 640h2v1h-2zM206 640h3v1h-3zM447 640h2v1h-2zM590 640h1v1h-1zM158 642h3v1h-3zM201 642h2v1h-2zM452 642h3v1h-3zM470 642h3v1h-3zM476 642h2v1h-2zM200 643h1v1h-1zM458 643h3v1h-3zM464 643h3v1h-3zM478 643h1v1h-1zM482 643h3v1h-3zM586 643h1v1h-1zM164 644h3v1h-3zM196 644h1v1h-1zM488 644h3v1h-3zM584 644h2v1h-2zM170 645h3v1h-3zM190 645h1v1h-1zM194 645h2v1h-2zM494 645h2v1h-2zM176 646h3v1h-3zM182 646h3v1h-3zM188 646h2v1h-2zM496 646h1v1h-1zM500 647h3v1h-3zM579 647h2v1h-2zM506 648h2v1h-2zM578 648h1v1h-1zM508 649h1v1h-1zM512 650h1v1h-1zM574 650h1v1h-1zM513 651h2v1h-2zM573 651h1v1h-1zM518 652h2v1h-2zM572 652h1v1h-1zM520 653h1v1h-1zM524 654h2v1h-2zM567 654h2v1h-2zM526 655h1v1h-1zM566 655h1v1h-1zM530 656h2v1h-2zM532 657h1v1h-1zM560 657h3v1h-3zM536 658h3v1h-3zM550 658h1v1h-1zM554 658h3v1h-3zM542 659h3v1h-3zM548 659h2v1h-2z" fill="#ff0000"/>
</g>
<text x="6.5" y="547" font-family="Liberation Sans, Arial, sans-serif" text-rendering="geometricPrecision" class="t" font-size="10" fill="#000" stroke="#000" textLength="118" lengthAdjust="spacingAndGlyphs">MACD(12,26,9) 6.659 8.149</text>
<rect x="1683" y="536" width="1" height="1" fill="#000"/>
<rect x="1683" y="607" width="1" height="1" fill="#000"/>
<rect x="1683" y="672" width="1" height="1" fill="#000"/>
<text x="1687" y="545" font-family="Liberation Sans, Arial, sans-serif" text-rendering="geometricPrecision" class="t" font-size="10" fill="#000" stroke="#000" textLength="27" lengthAdjust="spacingAndGlyphs">11.848</text>
<text x="1687" y="611" font-family="Liberation Sans, Arial, sans-serif" text-rendering="geometricPrecision" class="t" font-size="10" fill="#000" stroke="#000" textLength="18" lengthAdjust="spacingAndGlyphs">0.00</text>
<text x="1685" y="670" font-family="Liberation Sans, Arial, sans-serif" text-rendering="geometricPrecision" class="t" font-size="10" fill="#000" stroke="#000" textLength="33" lengthAdjust="spacingAndGlyphs">-10.808</text>
<g clip-path="url(#cr)" shape-rendering="crispEdges">
<path d="M3 706h3v1h-3zM9 706h3v1h-3zM15 706h3v1h-3zM21 706h3v1h-3zM27 706h3v1h-3zM33 706h3v1h-3zM39 706h3v1h-3zM45 706h3v1h-3zM51 706h3v1h-3zM57 706h3v1h-3zM63 706h3v1h-3zM69 706h3v1h-3zM75 706h3v1h-3zM81 706h3v1h-3zM87 706h3v1h-3zM93 706h3v1h-3zM99 706h3v1h-3zM105 706h3v1h-3zM111 706h3v1h-3zM117 706h3v1h-3zM123 706h3v1h-3zM129 706h3v1h-3zM135 706h3v1h-3zM141 706h3v1h-3zM147 706h3v1h-3zM153 706h3v1h-3zM159 706h3v1h-3zM165 706h3v1h-3zM171 706h3v1h-3zM177 706h3v1h-3zM183 706h3v1h-3zM189 706h3v1h-3zM195 706h3v1h-3zM201 706h3v1h-3zM207 706h3v1h-3zM213 706h3v1h-3zM219 706h3v1h-3zM225 706h3v1h-3zM231 706h3v1h-3zM237 706h3v1h-3zM243 706h3v1h-3zM249 706h3v1h-3zM255 706h3v1h-3zM261 706h3v1h-3zM267 706h3v1h-3zM273 706h3v1h-3zM279 706h3v1h-3zM285 706h3v1h-3zM291 706h3v1h-3zM297 706h3v1h-3zM303 706h3v1h-3zM309 706h3v1h-3zM315 706h3v1h-3zM321 706h3v1h-3zM327 706h3v1h-3zM333 706h3v1h-3zM339 706h3v1h-3zM345 706h3v1h-3zM351 706h3v1h-3zM357 706h3v1h-3zM363 706h3v1h-3zM369 706h3v1h-3zM375 706h3v1h-3zM381 706h3v1h-3zM387 706h3v1h-3zM393 706h3v1h-3zM399 706h3v1h-3zM405 706h3v1h-3zM411 706h3v1h-3zM417 706h3v1h-3zM423 706h3v1h-3zM429 706h3v1h-3zM435 706h3v1h-3zM441 706h3v1h-3zM447 706h3v1h-3zM453 706h3v1h-3zM459 706h3v1h-3zM465 706h3v1h-3zM471 706h3v1h-3zM477 706h3v1h-3zM483 706h3v1h-3zM489 706h3v1h-3zM495 706h3v1h-3zM501 706h3v1h-3zM507 706h3v1h-3zM513 706h3v1h-3zM519 706h3v1h-3zM525 706h3v1h-3zM531 706h3v1h-3zM537 706h3v1h-3zM543 706h3v1h-3zM549 706h3v1h-3zM555 706h3v1h-3zM561 706h3v1h-3zM567 706h3v1h-3zM573 706h3v1h-3zM579 706h3v1h-3zM585 706h3v1h-3zM591 706h3v1h-3zM597 706h3v1h-3zM603 706h3v1h-3zM609 706h3v1h-3zM615 706h3v1h-3zM621 706h3v1h-3zM627 706h3v1h-3zM633 706h3v1h-3zM639 706h3v1h-3zM645 706h3v1h-3zM651 706h3v1h-3zM657 706h3v1h-3zM663 706h3v1h-3zM669 706h3v1h-3zM675 706h3v1h-3zM681 706h3v1h-3zM687 706h3v1h-3zM693 706h3v1h-3zM699 706h3v1h-3zM705 706h3v1h-3zM711 706h3v1h-3zM717 706h3v1h-3zM723 706h3v1h-3zM729 706h3v1h-3zM735 706h3v1h-3zM741 706h3v1h-3zM747 706h3v1h-3zM753 706h3v1h-3zM759 706h3v1h-3zM765 706h3v1h-3zM771 706h3v1h-3zM777 706h3v1h-3zM783 706h3v1h-3zM789 706h3v1h-3zM795 706h3v1h-3zM801 706h3v1h-3zM807 706h3v1h-3zM813 706h3v1h-3zM819 706h3v1h-3zM825 706h3v1h-3zM831 706h3v1h-3zM837 706h3v1h-3zM843 706h3v1h-3zM849 706h3v1h-3zM855 706h3v1h-3zM861 706h3v1h-3zM867 706h3v1h-3zM873 706h3v1h-3zM879 706h3v1h-3zM885 706h3v1h-3zM891 706h3v1h-3zM897 706h3v1h-3zM903 706h3v1h-3zM909 706h3v1h-3zM915 706h3v1h-3zM921 706h3v1h-3zM927 706h3v1h-3zM933 706h3v1h-3zM939 706h3v1h-3zM945 706h3v1h-3zM951 706h3v1h-3zM957 706h3v1h-3zM963 706h3v1h-3zM969 706h3v1h-3zM975 706h3v1h-3zM981 706h3v1h-3zM987 706h3v1h-3zM993 706h3v1h-3zM999 706h3v1h-3zM1005 706h3v1h-3zM1011 706h3v1h-3zM1017 706h3v1h-3zM1023 706h3v1h-3zM1029 706h3v1h-3zM1035 706h3v1h-3zM1041 706h3v1h-3zM1047 706h3v1h-3zM1053 706h3v1h-3zM1059 706h3v1h-3zM1065 706h3v1h-3zM1071 706h3v1h-3zM1077 706h3v1h-3zM1083 706h3v1h-3zM1089 706h3v1h-3zM1095 706h3v1h-3zM1101 706h3v1h-3zM1107 706h3v1h-3zM1113 706h3v1h-3zM1119 706h3v1h-3zM1125 706h3v1h-3zM1131 706h3v1h-3zM1137 706h3v1h-3zM1143 706h3v1h-3zM1149 706h3v1h-3zM1155 706h3v1h-3zM1161 706h3v1h-3zM1167 706h3v1h-3zM1173 706h3v1h-3zM1179 706h3v1h-3zM1185 706h3v1h-3zM1191 706h3v1h-3zM1197 706h3v1h-3zM1203 706h3v1h-3zM1209 706h3v1h-3zM1215 706h3v1h-3zM1221 706h3v1h-3zM1227 706h3v1h-3zM1233 706h3v1h-3zM1239 706h3v1h-3zM1245 706h3v1h-3zM1251 706h3v1h-3zM1257 706h3v1h-3zM1263 706h3v1h-3zM1269 706h3v1h-3zM1275 706h3v1h-3zM1281 706h3v1h-3zM1287 706h3v1h-3zM1293 706h3v1h-3zM1299 706h3v1h-3zM1305 706h3v1h-3zM1311 706h3v1h-3zM1317 706h3v1h-3zM1323 706h3v1h-3zM1329 706h3v1h-3zM1335 706h3v1h-3zM1341 706h3v1h-3zM1347 706h3v1h-3zM1353 706h3v1h-3zM1359 706h3v1h-3zM1365 706h3v1h-3zM1371 706h3v1h-3zM1377 706h3v1h-3zM1383 706h3v1h-3zM1389 706h3v1h-3zM1395 706h3v1h-3zM1401 706h3v1h-3zM1407 706h3v1h-3zM1413 706h3v1h-3zM1419 706h3v1h-3zM1425 706h3v1h-3zM1431 706h3v1h-3zM1437 706h3v1h-3zM1443 706h3v1h-3zM1449 706h3v1h-3zM1455 706h3v1h-3zM1461 706h3v1h-3zM1467 706h3v1h-3zM1473 706h3v1h-3zM1479 706h3v1h-3zM1485 706h3v1h-3zM1491 706h3v1h-3zM1497 706h3v1h-3zM1503 706h3v1h-3zM1509 706h3v1h-3zM1515 706h3v1h-3zM1521 706h3v1h-3zM1527 706h3v1h-3zM1533 706h3v1h-3zM1539 706h3v1h-3zM1545 706h3v1h-3zM1551 706h3v1h-3zM1557 706h3v1h-3zM1563 706h3v1h-3zM1569 706h3v1h-3zM1575 706h3v1h-3zM1581 706h3v1h-3zM1587 706h3v1h-3zM1593 706h3v1h-3zM1599 706h3v1h-3zM1605 706h3v1h-3zM1611 706h3v1h-3zM1617 706h3v1h-3zM1623 706h3v1h-3zM1629 706h3v1h-3zM1635 706h3v1h-3zM1641 706h3v1h-3zM1647 706h3v1h-3zM1653 706h3v1h-3zM1659 706h3v1h-3zM1665 706h3v1h-3zM1671 706h3v1h-3zM1677 706h3v1h-3z" fill="#c0c0c0"/>
<path d="M3 746h3v1h-3zM9 746h3v1h-3zM15 746h3v1h-3zM21 746h3v1h-3zM27 746h3v1h-3zM33 746h3v1h-3zM39 746h3v1h-3zM45 746h3v1h-3zM51 746h3v1h-3zM57 746h3v1h-3zM63 746h3v1h-3zM69 746h3v1h-3zM75 746h3v1h-3zM81 746h3v1h-3zM87 746h3v1h-3zM93 746h3v1h-3zM99 746h3v1h-3zM105 746h3v1h-3zM111 746h3v1h-3zM117 746h3v1h-3zM123 746h3v1h-3zM129 746h3v1h-3zM135 746h3v1h-3zM141 746h3v1h-3zM147 746h3v1h-3zM153 746h3v1h-3zM159 746h3v1h-3zM165 746h3v1h-3zM171 746h3v1h-3zM177 746h3v1h-3zM183 746h3v1h-3zM189 746h3v1h-3zM195 746h3v1h-3zM201 746h3v1h-3zM207 746h3v1h-3zM213 746h3v1h-3zM219 746h3v1h-3zM225 746h3v1h-3zM231 746h3v1h-3zM237 746h3v1h-3zM243 746h3v1h-3zM249 746h3v1h-3zM255 746h3v1h-3zM261 746h3v1h-3zM267 746h3v1h-3zM273 746h3v1h-3zM279 746h3v1h-3zM285 746h3v1h-3zM291 746h3v1h-3zM297 746h3v1h-3zM303 746h3v1h-3zM309 746h3v1h-3zM315 746h3v1h-3zM321 746h3v1h-3zM327 746h3v1h-3zM333 746h3v1h-3zM339 746h3v1h-3zM345 746h3v1h-3zM351 746h3v1h-3zM357 746h3v1h-3zM363 746h3v1h-3zM369 746h3v1h-3zM375 746h3v1h-3zM381 746h3v1h-3zM387 746h3v1h-3zM393 746h3v1h-3zM399 746h3v1h-3zM405 746h3v1h-3zM411 746h3v1h-3zM417 746h3v1h-3zM423 746h3v1h-3zM429 746h3v1h-3zM435 746h3v1h-3zM441 746h3v1h-3zM447 746h3v1h-3zM453 746h3v1h-3zM459 746h3v1h-3zM465 746h3v1h-3zM471 746h3v1h-3zM477 746h3v1h-3zM483 746h3v1h-3zM489 746h3v1h-3zM495 746h3v1h-3zM501 746h3v1h-3zM507 746h3v1h-3zM513 746h3v1h-3zM519 746h3v1h-3zM525 746h3v1h-3zM531 746h3v1h-3zM537 746h3v1h-3zM543 746h3v1h-3zM549 746h3v1h-3zM555 746h3v1h-3zM561 746h3v1h-3zM567 746h3v1h-3zM573 746h3v1h-3zM579 746h3v1h-3zM585 746h3v1h-3zM591 746h3v1h-3zM597 746h3v1h-3zM603 746h3v1h-3zM609 746h3v1h-3zM615 746h3v1h-3zM621 746h3v1h-3zM627 746h3v1h-3zM633 746h3v1h-3zM639 746h3v1h-3zM645 746h3v1h-3zM651 746h3v1h-3zM657 746h3v1h-3zM663 746h3v1h-3zM669 746h3v1h-3zM675 746h3v1h-3zM681 746h3v1h-3zM687 746h3v1h-3zM693 746h3v1h-3zM699 746h3v1h-3zM705 746h3v1h-3zM711 746h3v1h-3zM717 746h3v1h-3zM723 746h3v1h-3zM729 746h3v1h-3zM735 746h3v1h-3zM741 746h3v1h-3zM747 746h3v1h-3zM753 746h3v1h-3zM759 746h3v1h-3zM765 746h3v1h-3zM771 746h3v1h-3zM777 746h3v1h-3zM783 746h3v1h-3zM789 746h3v1h-3zM795 746h3v1h-3zM801 746h3v1h-3zM807 746h3v1h-3zM813 746h3v1h-3zM819 746h3v1h-3zM825 746h3v1h-3zM831 746h3v1h-3zM837 746h3v1h-3zM843 746h3v1h-3zM849 746h3v1h-3zM855 746h3v1h-3zM861 746h3v1h-3zM867 746h3v1h-3zM873 746h3v1h-3zM879 746h3v1h-3zM885 746h3v1h-3zM891 746h3v1h-3zM897 746h3v1h-3zM903 746h3v1h-3zM909 746h3v1h-3zM915 746h3v1h-3zM921 746h3v1h-3zM927 746h3v1h-3zM933 746h3v1h-3zM939 746h3v1h-3zM945 746h3v1h-3zM951 746h3v1h-3zM957 746h3v1h-3zM963 746h3v1h-3zM969 746h3v1h-3zM975 746h3v1h-3zM981 746h3v1h-3zM987 746h3v1h-3zM993 746h3v1h-3zM999 746h3v1h-3zM1005 746h3v1h-3zM1011 746h3v1h-3zM1017 746h3v1h-3zM1023 746h3v1h-3zM1029 746h3v1h-3zM1035 746h3v1h-3zM1041 746h3v1h-3zM1047 746h3v1h-3zM1053 746h3v1h-3zM1059 746h3v1h-3zM1065 746h3v1h-3zM1071 746h3v1h-3zM1077 746h3v1h-3zM1083 746h3v1h-3zM1089 746h3v1h-3zM1095 746h3v1h-3zM1101 746h3v1h-3zM1107 746h3v1h-3zM1113 746h3v1h-3zM1119 746h3v1h-3zM1125 746h3v1h-3zM1131 746h3v1h-3zM1137 746h3v1h-3zM1143 746h3v1h-3zM1149 746h3v1h-3zM1155 746h3v1h-3zM1161 746h3v1h-3zM1167 746h3v1h-3zM1173 746h3v1h-3zM1179 746h3v1h-3zM1185 746h3v1h-3zM1191 746h3v1h-3zM1197 746h3v1h-3zM1203 746h3v1h-3zM1209 746h3v1h-3zM1215 746h3v1h-3zM1221 746h3v1h-3zM1227 746h3v1h-3zM1233 746h3v1h-3zM1239 746h3v1h-3zM1245 746h3v1h-3zM1251 746h3v1h-3zM1257 746h3v1h-3zM1263 746h3v1h-3zM1269 746h3v1h-3zM1275 746h3v1h-3zM1281 746h3v1h-3zM1287 746h3v1h-3zM1293 746h3v1h-3zM1299 746h3v1h-3zM1305 746h3v1h-3zM1311 746h3v1h-3zM1317 746h3v1h-3zM1323 746h3v1h-3zM1329 746h3v1h-3zM1335 746h3v1h-3zM1341 746h3v1h-3zM1347 746h3v1h-3zM1353 746h3v1h-3zM1359 746h3v1h-3zM1365 746h3v1h-3zM1371 746h3v1h-3zM1377 746h3v1h-3zM1383 746h3v1h-3zM1389 746h3v1h-3zM1395 746h3v1h-3zM1401 746h3v1h-3zM1407 746h3v1h-3zM1413 746h3v1h-3zM1419 746h3v1h-3zM1425 746h3v1h-3zM1431 746h3v1h-3zM1437 746h3v1h-3zM1443 746h3v1h-3zM1449 746h3v1h-3zM1455 746h3v1h-3zM1461 746h3v1h-3zM1467 746h3v1h-3zM1473 746h3v1h-3zM1479 746h3v1h-3zM1485 746h3v1h-3zM1491 746h3v1h-3zM1497 746h3v1h-3zM1503 746h3v1h-3zM1509 746h3v1h-3zM1515 746h3v1h-3zM1521 746h3v1h-3zM1527 746h3v1h-3zM1533 746h3v1h-3zM1539 746h3v1h-3zM1545 746h3v1h-3zM1551 746h3v1h-3zM1557 746h3v1h-3zM1563 746h3v1h-3zM1569 746h3v1h-3zM1575 746h3v1h-3zM1581 746h3v1h-3zM1587 746h3v1h-3zM1593 746h3v1h-3zM1599 746h3v1h-3zM1605 746h3v1h-3zM1611 746h3v1h-3zM1617 746h3v1h-3zM1623 746h3v1h-3zM1629 746h3v1h-3zM1635 746h3v1h-3zM1641 746h3v1h-3zM1647 746h3v1h-3zM1653 746h3v1h-3zM1659 746h3v1h-3zM1665 746h3v1h-3zM1671 746h3v1h-3zM1677 746h3v1h-3z" fill="#c0c0c0"/>
<path d="M1097 701h2v1h-2zM1585 701h2v1h-2zM1095 702h2v1h-2zM1099 702h1v1h-1zM1583 702h2v1h-2zM1587 702h2v1h-2zM1617 702h2v1h-2zM1064 703h4v1h-4zM1093 703h2v1h-2zM1099 703h1v1h-1zM1581 703h2v1h-2zM1589 703h2v1h-2zM1614 703h3v1h-3zM1619 703h1v1h-1zM984 704h3v1h-3zM1060 704h4v1h-4zM1068 704h4v1h-4zM1091 704h2v1h-2zM1100 704h1v1h-1zM1579 704h2v1h-2zM1591 704h2v1h-2zM1612 704h2v1h-2zM1620 704h1v1h-1zM980 705h4v1h-4zM987 705h1v1h-1zM1057 705h3v1h-3zM1072 705h6v1h-6zM1086 705h5v1h-5zM1100 705h1v1h-1zM1578 705h1v1h-1zM1593 705h19v1h-19zM1621 705h1v1h-1zM978 706h2v1h-2zM988 706h1v1h-1zM1010 706h2v1h-2zM1055 706h2v1h-2zM1078 706h8v1h-8zM1101 706h1v1h-1zM1576 706h2v1h-2zM1622 706h1v1h-1zM976 707h2v1h-2zM989 707h1v1h-1zM1008 707h2v1h-2zM1012 707h2v1h-2zM1053 707h2v1h-2zM1102 707h1v1h-1zM1574 707h2v1h-2zM1623 707h1v1h-1zM634 708h2v1h-2zM975 708h1v1h-1zM990 708h1v1h-1zM1006 708h2v1h-2zM1014 708h3v1h-3zM1051 708h2v1h-2zM1102 708h1v1h-1zM1542 708h5v1h-5zM1573 708h1v1h-1zM1624 708h1v1h-1zM633 709h1v1h-1zM636 709h2v1h-2zM974 709h1v1h-1zM990 709h1v1h-1zM1005 709h1v1h-1zM1017 709h10v1h-10zM1048 709h3v1h-3zM1103 709h1v1h-1zM1329 709h2v1h-2zM1538 709h4v1h-4zM1547 709h2v1h-2zM1571 709h2v1h-2zM1625 709h1v1h-1zM633 710h1v1h-1zM638 710h3v1h-3zM962 710h2v1h-2zM972 710h2v1h-2zM991 710h1v1h-1zM1003 710h2v1h-2zM1027 710h2v1h-2zM1044 710h4v1h-4zM1104 710h1v1h-1zM1326 710h3v1h-3zM1331 710h1v1h-1zM1538 710h1v1h-1zM1549 710h2v1h-2zM1568 710h3v1h-3zM1626 710h1v1h-1zM632 711h1v1h-1zM641 711h3v1h-3zM960 711h2v1h-2zM964 711h4v1h-4zM971 711h1v1h-1zM992 711h1v1h-1zM1000 711h3v1h-3zM1029 711h1v1h-1zM1041 711h3v1h-3zM1104 711h1v1h-1zM1298 711h1v1h-1zM1324 711h2v1h-2zM1332 711h1v1h-1zM1497 711h3v1h-3zM1537 711h1v1h-1zM1551 711h2v1h-2zM1564 711h4v1h-4zM1627 711h1v1h-1zM258 712h4v1h-4zM270 712h5v1h-5zM631 712h1v1h-1zM644 712h2v1h-2zM656 712h3v1h-3zM959 712h1v1h-1zM968 712h3v1h-3zM993 712h1v1h-1zM996 712h4v1h-4zM1030 712h2v1h-2zM1038 712h3v1h-3zM1105 712h1v1h-1zM1297 712h1v1h-1zM1299 712h2v1h-2zM1318 712h6v1h-6zM1333 712h1v1h-1zM1494 712h3v1h-3zM1500 712h4v1h-4zM1537 712h1v1h-1zM1553 712h11v1h-11zM1628 712h1v1h-1zM256 713h2v1h-2zM262 713h8v1h-8zM275 713h1v1h-1zM617 713h2v1h-2zM630 713h1v1h-1zM646 713h3v1h-3zM652 713h4v1h-4zM659 713h1v1h-1zM958 713h1v1h-1zM994 713h2v1h-2zM1032 713h2v1h-2zM1036 713h2v1h-2zM1105 713h1v1h-1zM1222 713h5v1h-5zM1297 713h1v1h-1zM1301 713h2v1h-2zM1312 713h6v1h-6zM1334 713h1v1h-1zM1492 713h2v1h-2zM1504 713h4v1h-4zM1536 713h1v1h-1zM1629 713h1v1h-1zM241 714h2v1h-2zM255 714h1v1h-1zM276 714h1v1h-1zM290 714h4v1h-4zM302 714h8v1h-8zM615 714h2v1h-2zM619 714h1v1h-1zM630 714h1v1h-1zM649 714h3v1h-3zM660 714h1v1h-1zM674 714h1v1h-1zM956 714h2v1h-2zM1034 714h2v1h-2zM1106 714h4v1h-4zM1217 714h5v1h-5zM1227 714h2v1h-2zM1262 714h5v1h-5zM1296 714h1v1h-1zM1303 714h2v1h-2zM1308 714h4v1h-4zM1335 714h1v1h-1zM1490 714h2v1h-2zM1508 714h4v1h-4zM1536 714h1v1h-1zM1630 714h1v1h-1zM238 715h3v1h-3zM243 715h2v1h-2zM254 715h1v1h-1zM277 715h1v1h-1zM288 715h2v1h-2zM294 715h8v1h-8zM310 715h5v1h-5zM613 715h2v1h-2zM620 715h2v1h-2zM629 715h1v1h-1zM661 715h1v1h-1zM672 715h2v1h-2zM675 715h1v1h-1zM712 715h4v1h-4zM955 715h1v1h-1zM1110 715h5v1h-5zM1214 715h3v1h-3zM1229 715h1v1h-1zM1254 715h8v1h-8zM1267 715h2v1h-2zM1281 715h2v1h-2zM1296 715h1v1h-1zM1305 715h3v1h-3zM1336 715h1v1h-1zM1488 715h2v1h-2zM1512 715h3v1h-3zM1535 715h1v1h-1zM1630 715h1v1h-1zM236 716h2v1h-2zM245 716h2v1h-2zM252 716h2v1h-2zM278 716h2v1h-2zM286 716h2v1h-2zM315 716h1v1h-1zM611 716h2v1h-2zM622 716h1v1h-1zM628 716h1v1h-1zM662 716h2v1h-2zM670 716h2v1h-2zM676 716h2v1h-2zM708 716h4v1h-4zM716 716h4v1h-4zM952 716h3v1h-3zM1115 716h2v1h-2zM1136 716h3v1h-3zM1212 716h2v1h-2zM1230 716h2v1h-2zM1246 716h8v1h-8zM1269 716h1v1h-1zM1279 716h2v1h-2zM1283 716h1v1h-1zM1295 716h1v1h-1zM1337 716h1v1h-1zM1486 716h2v1h-2zM1515 716h1v1h-1zM1535 716h1v1h-1zM1631 716h1v1h-1zM1641 716h3v1h-3zM1656 716h3v1h-3zM234 717h2v1h-2zM247 717h2v1h-2zM251 717h1v1h-1zM280 717h1v1h-1zM285 717h1v1h-1zM316 717h2v1h-2zM329 717h2v1h-2zM608 717h3v1h-3zM623 717h1v1h-1zM627 717h1v1h-1zM664 717h1v1h-1zM669 717h1v1h-1zM678 717h1v1h-1zM705 717h3v1h-3zM720 717h4v1h-4zM948 717h4v1h-4zM1117 717h2v1h-2zM1132 717h4v1h-4zM1139 717h1v1h-1zM1168 717h3v1h-3zM1206 717h6v1h-6zM1232 717h2v1h-2zM1238 717h8v1h-8zM1270 717h2v1h-2zM1277 717h2v1h-2zM1283 717h1v1h-1zM1295 717h1v1h-1zM1338 717h1v1h-1zM1485 717h1v1h-1zM1516 717h2v1h-2zM1534 717h1v1h-1zM1632 717h1v1h-1zM1638 717h3v1h-3zM1644 717h4v1h-4zM1652 717h4v1h-4zM233 718h1v1h-1zM249 718h2v1h-2zM281 718h1v1h-1zM283 718h2v1h-2zM318 718h1v1h-1zM327 718h2v1h-2zM331 718h1v1h-1zM577 718h11v1h-11zM604 718h4v1h-4zM624 718h2v1h-2zM627 718h1v1h-1zM665 718h1v1h-1zM667 718h2v1h-2zM679 718h1v1h-1zM703 718h2v1h-2zM724 718h4v1h-4zM946 718h2v1h-2zM1119 718h2v1h-2zM1126 718h6v1h-6zM1140 718h1v1h-1zM1164 718h4v1h-4zM1171 718h1v1h-1zM1201 718h5v1h-5zM1234 718h4v1h-4zM1272 718h2v1h-2zM1275 718h2v1h-2zM1284 718h1v1h-1zM1294 718h1v1h-1zM1339 718h1v1h-1zM1483 718h2v1h-2zM1518 718h1v1h-1zM1534 718h1v1h-1zM1633 718h1v1h-1zM1636 718h2v1h-2zM1648 718h4v1h-4zM232 719h1v1h-1zM282 719h1v1h-1zM319 719h1v1h-1zM325 719h2v1h-2zM331 719h1v1h-1zM575 719h2v1h-2zM588 719h4v1h-4zM598 719h6v1h-6zM626 719h1v1h-1zM666 719h1v1h-1zM680 719h2v1h-2zM701 719h2v1h-2zM728 719h12v1h-12zM945 719h1v1h-1zM1121 719h5v1h-5zM1141 719h1v1h-1zM1160 719h4v1h-4zM1172 719h1v1h-1zM1199 719h2v1h-2zM1274 719h1v1h-1zM1285 719h1v1h-1zM1294 719h1v1h-1zM1339 719h1v1h-1zM1481 719h2v1h-2zM1519 719h1v1h-1zM1533 719h1v1h-1zM1634 719h2v1h-2zM232 720h1v1h-1zM320 720h2v1h-2zM323 720h2v1h-2zM332 720h1v1h-1zM573 720h2v1h-2zM592 720h6v1h-6zM682 720h4v1h-4zM699 720h2v1h-2zM740 720h2v1h-2zM944 720h1v1h-1zM1142 720h2v1h-2zM1156 720h4v1h-4zM1173 720h1v1h-1zM1197 720h2v1h-2zM1286 720h1v1h-1zM1293 720h1v1h-1zM1340 720h1v1h-1zM1394 720h2v1h-2zM1478 720h3v1h-3zM1520 720h2v1h-2zM1533 720h1v1h-1zM231 721h1v1h-1zM322 721h1v1h-1zM333 721h1v1h-1zM571 721h2v1h-2zM686 721h13v1h-13zM742 721h3v1h-3zM942 721h2v1h-2zM1144 721h1v1h-1zM1152 721h4v1h-4zM1174 721h2v1h-2zM1185 721h5v1h-5zM1195 721h2v1h-2zM1286 721h1v1h-1zM1293 721h1v1h-1zM1340 721h1v1h-1zM1392 721h2v1h-2zM1396 721h2v1h-2zM1476 721h2v1h-2zM1522 721h1v1h-1zM1532 721h1v1h-1zM230 722h1v1h-1zM334 722h1v1h-1zM569 722h2v1h-2zM745 722h2v1h-2zM793 722h5v1h-5zM873 722h5v1h-5zM941 722h1v1h-1zM1145 722h1v1h-1zM1148 722h4v1h-4zM1176 722h1v1h-1zM1182 722h3v1h-3zM1190 722h5v1h-5zM1287 722h1v1h-1zM1292 722h1v1h-1zM1341 722h1v1h-1zM1390 722h2v1h-2zM1398 722h3v1h-3zM1430 722h8v1h-8zM1474 722h2v1h-2zM1523 722h2v1h-2zM1532 722h1v1h-1zM193 723h2v1h-2zM229 723h1v1h-1zM334 723h1v1h-1zM567 723h2v1h-2zM747 723h1v1h-1zM790 723h3v1h-3zM798 723h14v1h-14zM871 723h2v1h-2zM878 723h6v1h-6zM896 723h3v1h-3zM940 723h1v1h-1zM1146 723h2v1h-2zM1177 723h1v1h-1zM1180 723h2v1h-2zM1288 723h1v1h-1zM1292 723h1v1h-1zM1342 723h1v1h-1zM1389 723h1v1h-1zM1401 723h29v1h-29zM1438 723h21v1h-21zM1472 723h2v1h-2zM1525 723h2v1h-2zM1531 723h1v1h-1zM74 724h1v1h-1zM190 724h3v1h-3zM195 724h2v1h-2zM228 724h1v1h-1zM335 724h1v1h-1zM565 724h2v1h-2zM748 724h2v1h-2zM777 724h5v1h-5zM788 724h2v1h-2zM812 724h4v1h-4zM822 724h22v1h-22zM869 724h2v1h-2zM884 724h4v1h-4zM892 724h4v1h-4zM899 724h1v1h-1zM939 724h1v1h-1zM1178 724h2v1h-2zM1289 724h1v1h-1zM1291 724h1v1h-1zM1342 724h1v1h-1zM1387 724h2v1h-2zM1459 724h2v1h-2zM1471 724h1v1h-1zM1527 724h2v1h-2zM1531 724h1v1h-1zM73 725h1v1h-1zM75 725h2v1h-2zM188 725h2v1h-2zM197 725h2v1h-2zM208 725h4v1h-4zM228 725h1v1h-1zM336 725h1v1h-1zM563 725h2v1h-2zM750 725h1v1h-1zM775 725h2v1h-2zM782 725h6v1h-6zM816 725h6v1h-6zM844 725h2v1h-2zM867 725h2v1h-2zM888 725h4v1h-4zM900 725h2v1h-2zM936 725h3v1h-3zM1289 725h1v1h-1zM1291 725h1v1h-1zM1343 725h1v1h-1zM1354 725h1v1h-1zM1385 725h2v1h-2zM1461 725h1v1h-1zM1470 725h1v1h-1zM1529 725h2v1h-2zM9 726h2v1h-2zM72 726h1v1h-1zM77 726h2v1h-2zM184 726h4v1h-4zM199 726h2v1h-2zM204 726h4v1h-4zM212 726h4v1h-4zM227 726h1v1h-1zM337 726h1v1h-1zM562 726h1v1h-1zM751 726h1v1h-1zM773 726h2v1h-2zM846 726h3v1h-3zM866 726h1v1h-1zM902 726h1v1h-1zM920 726h6v1h-6zM932 726h4v1h-4zM1290 726h1v1h-1zM1344 726h1v1h-1zM1352 726h2v1h-2zM1355 726h2v1h-2zM1382 726h3v1h-3zM1462 726h2v1h-2zM1468 726h2v1h-2zM7 727h2v1h-2zM11 727h2v1h-2zM72 727h1v1h-1zM79 727h2v1h-2zM180 727h4v1h-4zM201 727h3v1h-3zM216 727h11v1h-11zM337 727h1v1h-1zM561 727h1v1h-1zM752 727h2v1h-2zM771 727h2v1h-2zM849 727h2v1h-2zM865 727h1v1h-1zM903 727h1v1h-1zM916 727h4v1h-4zM926 727h6v1h-6zM1344 727h1v1h-1zM1350 727h2v1h-2zM1357 727h2v1h-2zM1380 727h2v1h-2zM1464 727h2v1h-2zM1467 727h1v1h-1zM5 728h2v1h-2zM13 728h2v1h-2zM71 728h1v1h-1zM81 728h2v1h-2zM177 728h3v1h-3zM338 728h4v1h-4zM560 728h1v1h-1zM754 728h1v1h-1zM770 728h1v1h-1zM851 728h1v1h-1zM864 728h1v1h-1zM904 728h2v1h-2zM910 728h6v1h-6zM1345 728h1v1h-1zM1349 728h1v1h-1zM1359 728h2v1h-2zM1366 728h14v1h-14zM1466 728h1v1h-1zM3 729h2v1h-2zM15 729h2v1h-2zM70 729h1v1h-1zM83 729h2v1h-2zM175 729h2v1h-2zM342 729h6v1h-6zM440 729h4v1h-4zM558 729h2v1h-2zM755 729h1v1h-1zM768 729h2v1h-2zM852 729h2v1h-2zM862 729h2v1h-2zM906 729h4v1h-4zM1345 729h1v1h-1zM1347 729h2v1h-2zM1361 729h5v1h-5zM2 730h1v1h-1zM17 730h5v1h-5zM69 730h1v1h-1zM85 730h2v1h-2zM173 730h2v1h-2zM348 730h4v1h-4zM436 730h4v1h-4zM444 730h4v1h-4zM557 730h1v1h-1zM756 730h2v1h-2zM767 730h1v1h-1zM854 730h1v1h-1zM861 730h1v1h-1zM1346 730h1v1h-1zM22 731h6v1h-6zM46 731h8v1h-8zM68 731h1v1h-1zM87 731h2v1h-2zM171 731h2v1h-2zM352 731h6v1h-6zM434 731h2v1h-2zM448 731h3v1h-3zM538 731h4v1h-4zM556 731h1v1h-1zM758 731h1v1h-1zM766 731h1v1h-1zM855 731h1v1h-1zM860 731h1v1h-1zM28 732h4v1h-4zM38 732h8v1h-8zM54 732h6v1h-6zM68 732h1v1h-1zM89 732h2v1h-2zM169 732h2v1h-2zM358 732h5v1h-5zM432 732h2v1h-2zM451 732h2v1h-2zM536 732h2v1h-2zM542 732h8v1h-8zM555 732h1v1h-1zM759 732h1v1h-1zM764 732h2v1h-2zM856 732h2v1h-2zM859 732h1v1h-1zM32 733h6v1h-6zM60 733h4v1h-4zM67 733h1v1h-1zM91 733h1v1h-1zM167 733h2v1h-2zM363 733h2v1h-2zM431 733h1v1h-1zM453 733h2v1h-2zM535 733h1v1h-1zM550 733h5v1h-5zM760 733h2v1h-2zM763 733h1v1h-1zM858 733h1v1h-1zM64 734h3v1h-3zM92 734h1v1h-1zM154 734h2v1h-2zM165 734h2v1h-2zM365 734h2v1h-2zM376 734h3v1h-3zM430 734h1v1h-1zM455 734h2v1h-2zM462 734h6v1h-6zM534 734h1v1h-1zM762 734h1v1h-1zM93 735h1v1h-1zM153 735h1v1h-1zM156 735h4v1h-4zM163 735h2v1h-2zM367 735h2v1h-2zM372 735h4v1h-4zM379 735h1v1h-1zM428 735h2v1h-2zM457 735h5v1h-5zM468 735h2v1h-2zM514 735h2v1h-2zM532 735h2v1h-2zM94 736h1v1h-1zM153 736h1v1h-1zM160 736h3v1h-3zM369 736h3v1h-3zM379 736h1v1h-1zM427 736h1v1h-1zM470 736h3v1h-3zM512 736h2v1h-2zM516 736h4v1h-4zM531 736h1v1h-1zM94 737h1v1h-1zM152 737h1v1h-1zM380 737h1v1h-1zM426 737h1v1h-1zM473 737h2v1h-2zM510 737h2v1h-2zM520 737h11v1h-11zM95 738h1v1h-1zM152 738h1v1h-1zM380 738h1v1h-1zM424 738h2v1h-2zM475 738h1v1h-1zM509 738h1v1h-1zM96 739h1v1h-1zM151 739h1v1h-1zM381 739h1v1h-1zM423 739h1v1h-1zM475 739h1v1h-1zM507 739h2v1h-2zM97 740h1v1h-1zM151 740h1v1h-1zM381 740h1v1h-1zM422 740h1v1h-1zM476 740h1v1h-1zM506 740h1v1h-1zM98 741h2v1h-2zM150 741h1v1h-1zM382 741h1v1h-1zM420 741h2v1h-2zM476 741h1v1h-1zM505 741h1v1h-1zM100 742h4v1h-4zM110 742h6v1h-6zM150 742h1v1h-1zM383 742h1v1h-1zM419 742h1v1h-1zM477 742h1v1h-1zM504 742h1v1h-1zM104 743h6v1h-6zM116 743h2v1h-2zM149 743h1v1h-1zM383 743h1v1h-1zM409 743h10v1h-10zM477 743h1v1h-1zM502 743h2v1h-2zM118 744h3v1h-3zM149 744h1v1h-1zM384 744h1v1h-1zM406 744h3v1h-3zM478 744h1v1h-1zM501 744h1v1h-1zM121 745h10v1h-10zM148 745h1v1h-1zM384 745h1v1h-1zM404 745h2v1h-2zM479 745h1v1h-1zM500 745h1v1h-1zM131 746h2v1h-2zM148 746h1v1h-1zM385 746h1v1h-1zM401 746h3v1h-3zM479 746h1v1h-1zM490 746h4v1h-4zM499 746h1v1h-1zM133 747h2v1h-2zM147 747h1v1h-1zM385 747h1v1h-1zM398 747h3v1h-3zM480 747h1v1h-1zM488 747h2v1h-2zM494 747h5v1h-5zM135 748h2v1h-2zM147 748h1v1h-1zM386 748h4v1h-4zM396 748h2v1h-2zM480 748h1v1h-1zM486 748h2v1h-2zM137 749h10v1h-10zM390 749h6v1h-6zM481 749h1v1h-1zM485 749h1v1h-1zM481 750h1v1h-1zM483 750h2v1h-2zM482 751h1v1h-1z" fill="#1e90ff"/>
</g>
<text x="6.5" y="688" font-family="Liberation Sans, Arial, sans-serif" text-rendering="geometricPrecision" class="t" font-size="10" fill="#000" stroke="#000" textLength="68" lengthAdjust="spacingAndGlyphs">RSI(14) 59.9446</text>
<rect x="1683" y="677" width="1" height="1" fill="#000"/>
<rect x="1683" y="706" width="1" height="1" fill="#000"/>
<rect x="1683" y="746" width="1" height="1" fill="#000"/>
<rect x="1683" y="777" width="1" height="1" fill="#000"/>
<text x="1686" y="686" font-family="Liberation Sans, Arial, sans-serif" text-rendering="geometricPrecision" class="t" font-size="10" fill="#000" stroke="#000" textLength="14" lengthAdjust="spacingAndGlyphs">100</text>
<text x="1685.5" y="710" font-family="Liberation Sans, Arial, sans-serif" text-rendering="geometricPrecision" class="t" font-size="10" fill="#000" stroke="#000" textLength="9.5" lengthAdjust="spacingAndGlyphs">70</text>
<text x="1685.5" y="750" font-family="Liberation Sans, Arial, sans-serif" text-rendering="geometricPrecision" class="t" font-size="10" fill="#000" stroke="#000" textLength="9.5" lengthAdjust="spacingAndGlyphs">30</text>
<text x="1686" y="774" font-family="Liberation Sans, Arial, sans-serif" text-rendering="geometricPrecision" class="t" font-size="10" fill="#000" stroke="#000" textLength="5" lengthAdjust="spacingAndGlyphs">0</text>
<rect x="2" y="778" width="1" height="3" fill="#000"/>
<text x="0.7" y="790" font-family="Liberation Sans, Arial, sans-serif" text-rendering="geometricPrecision" class="t" font-size="10" fill="#000" stroke="#000" textLength="53.9" lengthAdjust="spacingAndGlyphs">22 May 2020</text>
<rect x="66" y="778" width="1" height="3" fill="#000"/>
<text x="64.7" y="790" font-family="Liberation Sans, Arial, sans-serif" text-rendering="geometricPrecision" class="t" font-size="10" fill="#000" stroke="#000" textLength="56.8" lengthAdjust="spacingAndGlyphs">25 May 22:00</text>
<rect x="130" y="778" width="1" height="3" fill="#000"/>
<text x="128.7" y="790" font-family="Liberation Sans, Arial, sans-serif" text-rendering="geometricPrecision" class="t" font-size="10" fill="#000" stroke="#000" textLength="56.8" lengthAdjust="spacingAndGlyphs">27 May 04:00</text>
<rect x="194" y="778" width="1" height="3" fill="#000"/>
<text x="192.7" y="790" font-family="Liberation Sans, Arial, sans-serif" text-rendering="geometricPrecision" class="t" font-size="10" fill="#000" stroke="#000" textLength="56.8" lengthAdjust="spacingAndGlyphs">28 May 12:00</text>
<rect x="258" y="778" width="1" height="3" fill="#000"/>
<text x="256.7" y="790" font-family="Liberation Sans, Arial, sans-serif" text-rendering="geometricPrecision" class="t" font-size="10" fill="#000" stroke="#000" textLength="56.8" lengthAdjust="spacingAndGlyphs">31 May 23:00</text>
<rect x="322" y="778" width="1" height="3" fill="#000"/>
<text x="320.7" y="790" font-family="Liberation Sans, Arial, sans-serif" text-rendering="geometricPrecision" class="t" font-size="10" fill="#000" stroke="#000" textLength="49.2" lengthAdjust="spacingAndGlyphs">2 Jun 04:00</text>
<rect x="386" y="778" width="1" height="3" fill="#000"/>
<text x="384.7" y="790" font-family="Liberation Sans, Arial, sans-serif" text-rendering="geometricPrecision" class="t" font-size="10" fill="#000" stroke="#000" textLength="49.2" lengthAdjust="spacingAndGlyphs">3 Jun 12:00</text>
<rect x="450" y="778" width="1" height="3" fill="#000"/>
<text x="448.7" y="790" font-family="Liberation Sans, Arial, sans-serif" text-rendering="geometricPrecision" class="t" font-size="10" fill="#000" stroke="#000" textLength="49.2" lengthAdjust="spacingAndGlyphs">4 Jun 20:00</text>
<rect x="514" y="778" width="1" height="3" fill="#000"/>
<text x="512.7" y="790" font-family="Liberation Sans, Arial, sans-serif" text-rendering="geometricPrecision" class="t" font-size="10" fill="#000" stroke="#000" textLength="49.2" lengthAdjust="spacingAndGlyphs">8 Jun 04:00</text>
<rect x="578" y="778" width="1" height="3" fill="#000"/>
<text x="576.7" y="790" font-family="Liberation Sans, Arial, sans-serif" text-rendering="geometricPrecision" class="t" font-size="10" fill="#000" stroke="#000" textLength="49.2" lengthAdjust="spacingAndGlyphs">9 Jun 12:00</text>
<rect x="642" y="778" width="1" height="3" fill="#000"/>
<text x="640.7" y="790" font-family="Liberation Sans, Arial, sans-serif" text-rendering="geometricPrecision" class="t" font-size="10" fill="#000" stroke="#000" textLength="54.2" lengthAdjust="spacingAndGlyphs">10 Jun 20:00</text>
<rect x="706" y="778" width="1" height="3" fill="#000"/>
<text x="704.7" y="790" font-family="Liberation Sans, Arial, sans-serif" text-rendering="geometricPrecision" class="t" font-size="10" fill="#000" stroke="#000" textLength="54.2" lengthAdjust="spacingAndGlyphs">12 Jun 04:00</text>
<rect x="770" y="778" width="1" height="3" fill="#000"/>
<text x="768.7" y="790" font-family="Liberation Sans, Arial, sans-serif" text-rendering="geometricPrecision" class="t" font-size="10" fill="#000" stroke="#000" textLength="54.2" lengthAdjust="spacingAndGlyphs">15 Jun 12:00</text>
<rect x="834" y="778" width="1" height="3" fill="#000"/>
<text x="832.7" y="790" font-family="Liberation Sans, Arial, sans-serif" text-rendering="geometricPrecision" class="t" font-size="10" fill="#000" stroke="#000" textLength="54.2" lengthAdjust="spacingAndGlyphs">16 Jun 20:00</text>
<rect x="898" y="778" width="1" height="3" fill="#000"/>
<text x="896.7" y="790" font-family="Liberation Sans, Arial, sans-serif" text-rendering="geometricPrecision" class="t" font-size="10" fill="#000" stroke="#000" textLength="54.2" lengthAdjust="spacingAndGlyphs">18 Jun 04:00</text>
<rect x="962" y="778" width="1" height="3" fill="#000"/>
<text x="960.7" y="790" font-family="Liberation Sans, Arial, sans-serif" text-rendering="geometricPrecision" class="t" font-size="10" fill="#000" stroke="#000" textLength="54.2" lengthAdjust="spacingAndGlyphs">19 Jun 12:00</text>
<rect x="1026" y="778" width="1" height="3" fill="#000"/>
<text x="1024.7" y="790" font-family="Liberation Sans, Arial, sans-serif" text-rendering="geometricPrecision" class="t" font-size="10" fill="#000" stroke="#000" textLength="54.2" lengthAdjust="spacingAndGlyphs">22 Jun 20:00</text>
<rect x="1090" y="778" width="1" height="3" fill="#000"/>
<text x="1088.7" y="790" font-family="Liberation Sans, Arial, sans-serif" text-rendering="geometricPrecision" class="t" font-size="10" fill="#000" stroke="#000" textLength="54.2" lengthAdjust="spacingAndGlyphs">24 Jun 04:00</text>
<rect x="1154" y="778" width="1" height="3" fill="#000"/>
<text x="1152.7" y="790" font-family="Liberation Sans, Arial, sans-serif" text-rendering="geometricPrecision" class="t" font-size="10" fill="#000" stroke="#000" textLength="54.2" lengthAdjust="spacingAndGlyphs">25 Jun 12:00</text>
<rect x="1218" y="778" width="1" height="3" fill="#000"/>
<text x="1216.7" y="790" font-family="Liberation Sans, Arial, sans-serif" text-rendering="geometricPrecision" class="t" font-size="10" fill="#000" stroke="#000" textLength="54.2" lengthAdjust="spacingAndGlyphs">28 Jun 23:00</text>
<rect x="1282" y="778" width="1" height="3" fill="#000"/>
<text x="1280.7" y="790" font-family="Liberation Sans, Arial, sans-serif" text-rendering="geometricPrecision" class="t" font-size="10" fill="#000" stroke="#000" textLength="54.2" lengthAdjust="spacingAndGlyphs">30 Jun 04:00</text>
<rect x="1346" y="778" width="1" height="3" fill="#000"/>
<text x="1344.7" y="790" font-family="Liberation Sans, Arial, sans-serif" text-rendering="geometricPrecision" class="t" font-size="10" fill="#000" stroke="#000" textLength="46.0" lengthAdjust="spacingAndGlyphs">1 Jul 12:00</text>
<rect x="1410" y="778" width="1" height="3" fill="#000"/>
<text x="1408.7" y="790" font-family="Liberation Sans, Arial, sans-serif" text-rendering="geometricPrecision" class="t" font-size="10" fill="#000" stroke="#000" textLength="46.0" lengthAdjust="spacingAndGlyphs">2 Jul 20:00</text>
<rect x="1474" y="778" width="1" height="3" fill="#000"/>
<text x="1472.7" y="790" font-family="Liberation Sans, Arial, sans-serif" text-rendering="geometricPrecision" class="t" font-size="10" fill="#000" stroke="#000" textLength="46.0" lengthAdjust="spacingAndGlyphs">6 Jul 04:00</text>
<rect x="1538" y="778" width="1" height="3" fill="#000"/>
<text x="1536.7" y="790" font-family="Liberation Sans, Arial, sans-serif" text-rendering="geometricPrecision" class="t" font-size="10" fill="#000" stroke="#000" textLength="46.0" lengthAdjust="spacingAndGlyphs">7 Jul 12:00</text>
<rect x="1602" y="778" width="1" height="3" fill="#000"/>
<text x="1600.7" y="790" font-family="Liberation Sans, Arial, sans-serif" text-rendering="geometricPrecision" class="t" font-size="10" fill="#000" stroke="#000" textLength="46.0" lengthAdjust="spacingAndGlyphs">8 Jul 20:00</text>
</svg></body></html>
